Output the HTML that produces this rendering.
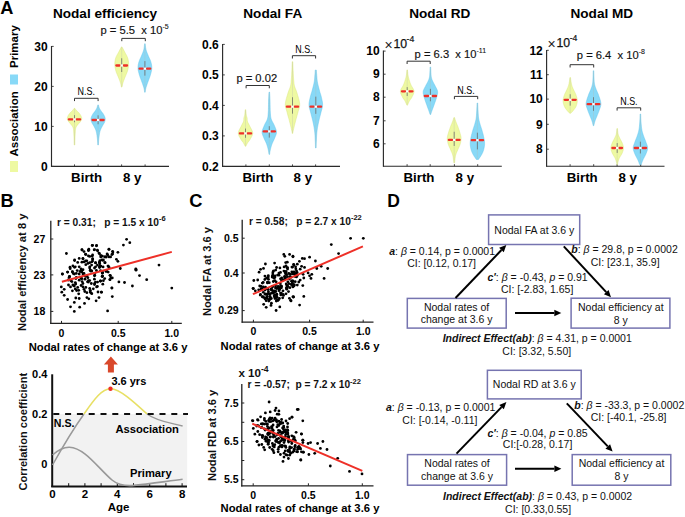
<!DOCTYPE html>
<html><head><meta charset="utf-8"><style>
html,body{margin:0;padding:0;background:#fff;overflow:hidden}
svg{display:block}
text{font-family:"Liberation Sans", sans-serif}
</style></head><body>
<svg width="685" height="517" viewBox="0 0 685 517">
<rect width="685" height="517" fill="#fff"/>
<text x="0.30" y="14.00" font-size="18.2" font-weight="bold" font-style="normal" text-anchor="start" fill="#000" >A</text>
<g transform="translate(18.3,68) rotate(-90)"><text x="0" y="0" font-size="11.5" font-weight="bold">Primary</text></g>
<rect x="10" y="74.5" width="8" height="10" fill="#88d9f7"/>
<g transform="translate(18.3,156.5) rotate(-90)"><text x="0" y="0" font-size="11.5" font-weight="bold">Association</text></g>
<rect x="10" y="161" width="8" height="11" fill="#eef9a2"/>
<line x1="51.50" y1="46.00" x2="51.50" y2="166.90" stroke="#2a2a2a" stroke-width="1.15" />
<line x1="51.20" y1="166.40" x2="169.00" y2="166.40" stroke="#2a2a2a" stroke-width="1.15" />
<line x1="51.70" y1="46.40" x2="53.70" y2="46.40" stroke="#333" stroke-width="0.9" />
<text x="47.70" y="50.60" font-size="12" font-weight="bold" font-style="normal" text-anchor="end" fill="#000" >30</text>
<line x1="51.70" y1="86.40" x2="53.70" y2="86.40" stroke="#333" stroke-width="0.9" />
<text x="47.70" y="90.60" font-size="12" font-weight="bold" font-style="normal" text-anchor="end" fill="#000" >20</text>
<line x1="51.70" y1="126.40" x2="53.70" y2="126.40" stroke="#333" stroke-width="0.9" />
<text x="47.70" y="130.60" font-size="12" font-weight="bold" font-style="normal" text-anchor="end" fill="#000" >10</text>
<line x1="51.70" y1="166.40" x2="53.70" y2="166.40" stroke="#333" stroke-width="0.9" />
<text x="47.70" y="170.60" font-size="12" font-weight="bold" font-style="normal" text-anchor="end" fill="#000" >0</text>
<line x1="74.50" y1="166.40" x2="74.50" y2="164.40" stroke="#333" stroke-width="0.9" />
<line x1="98.10" y1="166.40" x2="98.10" y2="164.40" stroke="#333" stroke-width="0.9" />
<line x1="121.60" y1="166.40" x2="121.60" y2="164.40" stroke="#333" stroke-width="0.9" />
<line x1="145.10" y1="166.40" x2="145.10" y2="164.40" stroke="#333" stroke-width="0.9" />
<text x="86.60" y="182.00" font-size="13.3" font-weight="bold" font-style="normal" text-anchor="middle" fill="#000" >Birth</text>
<text x="132.15" y="182.00" font-size="13.3" font-weight="bold" font-style="normal" text-anchor="middle" fill="#000" >8 y</text>
<text x="52.90" y="17.50" font-size="13.6" font-weight="bold" font-style="normal" text-anchor="start" fill="#000" >Nodal efficiency</text>
<path d="M74.80,108.30 L74.93,108.47 L75.09,108.69 L75.28,108.95 L75.49,109.24 L75.73,109.56 L75.98,109.88 L76.24,110.20 L76.50,110.50 L76.78,110.79 L77.08,111.09 L77.40,111.39 L77.73,111.70 L78.06,112.01 L78.39,112.33 L78.71,112.66 L79.00,113.00 L79.28,113.35 L79.57,113.72 L79.84,114.10 L80.11,114.48 L80.37,114.87 L80.60,115.25 L80.82,115.63 L81.00,116.00 L81.16,116.36 L81.31,116.72 L81.44,117.07 L81.55,117.42 L81.63,117.77 L81.69,118.11 L81.71,118.46 L81.70,118.80 L81.65,119.14 L81.56,119.47 L81.45,119.81 L81.30,120.14 L81.13,120.47 L80.94,120.81 L80.73,121.15 L80.50,121.50 L80.25,121.86 L79.96,122.22 L79.64,122.58 L79.31,122.95 L78.97,123.33 L78.63,123.71 L78.31,124.10 L78.00,124.50 L77.70,124.89 L77.39,125.26 L77.09,125.62 L76.79,126.00 L76.50,126.41 L76.24,126.87 L76.00,127.39 L75.80,128.00 L75.64,128.69 L75.51,129.43 L75.41,130.24 L75.33,131.09 L75.27,132.00 L75.21,132.96 L75.16,133.96 L75.10,135.00 L75.04,136.17 L74.99,137.52 L74.95,138.97 L74.91,140.44 L74.87,141.85 L74.84,143.13 L74.82,144.21 L74.80,145.00 L74.20,145.00 L74.18,144.21 L74.16,143.13 L74.13,141.85 L74.09,140.44 L74.05,138.97 L74.01,137.52 L73.96,136.17 L73.90,135.00 L73.84,133.96 L73.79,132.96 L73.73,132.00 L73.67,131.09 L73.59,130.24 L73.49,129.43 L73.36,128.69 L73.20,128.00 L73.00,127.39 L72.76,126.87 L72.50,126.41 L72.21,126.00 L71.91,125.62 L71.61,125.26 L71.30,124.89 L71.00,124.50 L70.69,124.10 L70.37,123.71 L70.03,123.33 L69.69,122.95 L69.36,122.58 L69.04,122.22 L68.75,121.86 L68.50,121.50 L68.27,121.15 L68.06,120.81 L67.87,120.47 L67.70,120.14 L67.55,119.81 L67.44,119.47 L67.35,119.14 L67.30,118.80 L67.29,118.46 L67.31,118.11 L67.37,117.77 L67.45,117.42 L67.56,117.07 L67.69,116.72 L67.84,116.36 L68.00,116.00 L68.18,115.63 L68.40,115.25 L68.63,114.87 L68.89,114.48 L69.16,114.10 L69.43,113.72 L69.72,113.35 L70.00,113.00 L70.29,112.66 L70.61,112.33 L70.94,112.01 L71.27,111.70 L71.60,111.39 L71.92,111.09 L72.22,110.79 L72.50,110.50 L72.76,110.20 L73.02,109.88 L73.27,109.56 L73.51,109.24 L73.72,108.95 L73.91,108.69 L74.07,108.47 L74.20,108.30Z" fill="#eef9a2" stroke="#d9e47a" stroke-width="0.45"/>
<line x1="74.50" y1="108.80" x2="74.50" y2="144.50" stroke="#b8bcb0" stroke-width="0.3" />
<line x1="74.50" y1="115.16" x2="74.50" y2="122.22" stroke="#606060" stroke-width="0.7" />
<line x1="68.88" y1="119.40" x2="72.30" y2="119.40" stroke="#ee3028" stroke-width="2.3" stroke-linecap="round"/>
<line x1="76.70" y1="119.40" x2="80.12" y2="119.40" stroke="#ee3028" stroke-width="2.3" stroke-linecap="round"/>
<rect x="73.40" y="118.30" width="2.2" height="2.2" fill="#fff"/>
<path d="M98.40,104.90 L98.46,105.14 L98.54,105.46 L98.63,105.84 L98.74,106.26 L98.86,106.71 L98.99,107.16 L99.14,107.60 L99.30,108.00 L99.48,108.38 L99.68,108.76 L99.89,109.13 L100.12,109.51 L100.36,109.88 L100.60,110.25 L100.85,110.63 L101.10,111.00 L101.36,111.38 L101.64,111.75 L101.93,112.12 L102.22,112.50 L102.51,112.88 L102.79,113.25 L103.06,113.62 L103.30,114.00 L103.53,114.38 L103.75,114.76 L103.96,115.15 L104.16,115.54 L104.35,115.92 L104.52,116.29 L104.67,116.65 L104.80,117.00 L104.91,117.32 L105.01,117.63 L105.08,117.91 L105.14,118.19 L105.19,118.48 L105.21,118.76 L105.21,119.07 L105.20,119.40 L105.17,119.75 L105.11,120.12 L105.04,120.49 L104.95,120.88 L104.84,121.28 L104.71,121.68 L104.57,122.09 L104.40,122.50 L104.21,122.91 L103.99,123.31 L103.75,123.72 L103.49,124.13 L103.22,124.56 L102.95,125.01 L102.67,125.49 L102.40,126.00 L102.12,126.54 L101.82,127.10 L101.51,127.68 L101.20,128.28 L100.90,128.91 L100.60,129.57 L100.34,130.27 L100.10,131.00 L99.89,131.78 L99.71,132.61 L99.54,133.48 L99.39,134.38 L99.25,135.29 L99.12,136.20 L99.01,137.11 L98.90,138.00 L98.80,138.92 L98.71,139.91 L98.64,140.93 L98.57,141.94 L98.52,142.89 L98.47,143.74 L98.43,144.46 L98.40,145.00 L97.80,145.00 L97.77,144.46 L97.73,143.74 L97.68,142.89 L97.62,141.94 L97.56,140.93 L97.49,139.91 L97.40,138.92 L97.30,138.00 L97.19,137.11 L97.07,136.20 L96.95,135.29 L96.81,134.38 L96.66,133.48 L96.49,132.61 L96.31,131.78 L96.10,131.00 L95.86,130.27 L95.60,129.57 L95.30,128.91 L95.00,128.28 L94.69,127.68 L94.38,127.10 L94.08,126.54 L93.80,126.00 L93.53,125.49 L93.25,125.01 L92.98,124.56 L92.71,124.13 L92.45,123.72 L92.21,123.31 L91.99,122.91 L91.80,122.50 L91.63,122.09 L91.49,121.68 L91.36,121.28 L91.25,120.88 L91.16,120.49 L91.09,120.12 L91.03,119.75 L91.00,119.40 L90.99,119.07 L90.99,118.76 L91.01,118.48 L91.06,118.19 L91.12,117.91 L91.19,117.63 L91.29,117.32 L91.40,117.00 L91.53,116.65 L91.68,116.29 L91.85,115.92 L92.04,115.54 L92.24,115.15 L92.45,114.76 L92.67,114.38 L92.90,114.00 L93.14,113.62 L93.41,113.25 L93.69,112.88 L93.98,112.50 L94.27,112.12 L94.56,111.75 L94.84,111.38 L95.10,111.00 L95.35,110.63 L95.60,110.25 L95.84,109.88 L96.08,109.51 L96.31,109.13 L96.52,108.76 L96.72,108.38 L96.90,108.00 L97.06,107.60 L97.21,107.16 L97.34,106.71 L97.46,106.26 L97.57,105.84 L97.66,105.46 L97.74,105.14 L97.80,104.90Z" fill="#88d9f7" stroke="#5fc2ea" stroke-width="0.45"/>
<line x1="98.10" y1="105.40" x2="98.10" y2="144.50" stroke="#b8bcb0" stroke-width="0.3" />
<line x1="98.10" y1="115.28" x2="98.10" y2="124.26" stroke="#606060" stroke-width="0.7" />
<line x1="92.57" y1="120.00" x2="95.90" y2="120.00" stroke="#ee3028" stroke-width="2.3" stroke-linecap="round"/>
<line x1="100.30" y1="120.00" x2="103.63" y2="120.00" stroke="#ee3028" stroke-width="2.3" stroke-linecap="round"/>
<rect x="97.00" y="118.90" width="2.2" height="2.2" fill="#fff"/>
<path d="M122.00,46.90 L122.21,47.29 L122.48,47.80 L122.80,48.40 L123.16,49.07 L123.55,49.80 L123.94,50.54 L124.33,51.28 L124.70,52.00 L125.08,52.70 L125.48,53.43 L125.90,54.16 L126.31,54.91 L126.72,55.67 L127.09,56.44 L127.42,57.22 L127.70,58.00 L127.93,58.79 L128.12,59.59 L128.28,60.40 L128.41,61.22 L128.50,62.04 L128.56,62.86 L128.60,63.68 L128.60,64.50 L128.57,65.31 L128.51,66.11 L128.41,66.92 L128.28,67.72 L128.12,68.53 L127.94,69.34 L127.73,70.16 L127.50,71.00 L127.22,71.86 L126.90,72.76 L126.53,73.68 L126.14,74.59 L125.75,75.50 L125.37,76.38 L125.01,77.22 L124.70,78.00 L124.42,78.73 L124.16,79.41 L123.91,80.06 L123.68,80.68 L123.47,81.28 L123.26,81.86 L123.08,82.43 L122.90,83.00 L122.74,83.58 L122.59,84.18 L122.46,84.78 L122.34,85.36 L122.23,85.90 L122.14,86.38 L122.06,86.79 L122.00,87.10 L121.40,87.10 L121.34,86.79 L121.26,86.38 L121.17,85.90 L121.06,85.36 L120.94,84.78 L120.81,84.18 L120.66,83.58 L120.50,83.00 L120.32,82.43 L120.14,81.86 L119.93,81.28 L119.72,80.68 L119.49,80.06 L119.24,79.41 L118.98,78.73 L118.70,78.00 L118.39,77.22 L118.03,76.38 L117.65,75.50 L117.26,74.59 L116.87,73.68 L116.50,72.76 L116.18,71.86 L115.90,71.00 L115.67,70.16 L115.46,69.34 L115.28,68.53 L115.12,67.72 L114.99,66.92 L114.89,66.11 L114.83,65.31 L114.80,64.50 L114.80,63.68 L114.84,62.86 L114.90,62.04 L114.99,61.22 L115.12,60.40 L115.28,59.59 L115.47,58.79 L115.70,58.00 L115.98,57.22 L116.31,56.44 L116.68,55.67 L117.09,54.91 L117.50,54.16 L117.92,53.43 L118.33,52.70 L118.70,52.00 L119.07,51.28 L119.46,50.54 L119.85,49.80 L120.24,49.07 L120.60,48.40 L120.92,47.80 L121.19,47.29 L121.40,46.90Z" fill="#eef9a2" stroke="#d9e47a" stroke-width="0.45"/>
<line x1="121.70" y1="47.40" x2="121.70" y2="86.60" stroke="#b8bcb0" stroke-width="0.3" />
<line x1="121.70" y1="58.26" x2="121.70" y2="72.03" stroke="#606060" stroke-width="0.7" />
<line x1="116.35" y1="65.50" x2="119.50" y2="65.50" stroke="#ee3028" stroke-width="2.3" stroke-linecap="round"/>
<line x1="123.90" y1="65.50" x2="127.05" y2="65.50" stroke="#ee3028" stroke-width="2.3" stroke-linecap="round"/>
<rect x="120.60" y="64.40" width="2.2" height="2.2" fill="#fff"/>
<path d="M145.20,43.80 L145.26,44.28 L145.33,44.92 L145.41,45.68 L145.51,46.52 L145.62,47.42 L145.76,48.32 L145.91,49.19 L146.10,50.00 L146.32,50.76 L146.57,51.51 L146.85,52.26 L147.15,53.01 L147.46,53.76 L147.78,54.50 L148.09,55.25 L148.40,56.00 L148.71,56.75 L149.05,57.49 L149.39,58.24 L149.74,58.98 L150.07,59.73 L150.38,60.48 L150.66,61.24 L150.90,62.00 L151.10,62.77 L151.29,63.54 L151.46,64.32 L151.59,65.11 L151.70,65.90 L151.77,66.69 L151.81,67.49 L151.80,68.30 L151.74,69.12 L151.64,69.94 L151.49,70.77 L151.31,71.61 L151.11,72.45 L150.88,73.29 L150.64,74.15 L150.40,75.00 L150.14,75.87 L149.84,76.75 L149.52,77.65 L149.19,78.54 L148.85,79.44 L148.52,80.31 L148.20,81.17 L147.90,82.00 L147.62,82.81 L147.33,83.61 L147.06,84.40 L146.79,85.17 L146.53,85.93 L146.30,86.65 L146.08,87.34 L145.90,88.00 L145.75,88.64 L145.62,89.28 L145.51,89.89 L145.43,90.47 L145.35,91.01 L145.30,91.49 L145.25,91.89 L145.20,92.20 L144.60,92.20 L144.55,91.89 L144.50,91.49 L144.45,91.01 L144.38,90.47 L144.29,89.89 L144.18,89.28 L144.05,88.64 L143.90,88.00 L143.72,87.34 L143.50,86.65 L143.27,85.93 L143.01,85.17 L142.74,84.40 L142.47,83.61 L142.18,82.81 L141.90,82.00 L141.60,81.17 L141.28,80.31 L140.95,79.44 L140.61,78.54 L140.28,77.65 L139.96,76.75 L139.66,75.87 L139.40,75.00 L139.16,74.15 L138.92,73.29 L138.69,72.45 L138.49,71.61 L138.31,70.77 L138.16,69.94 L138.06,69.12 L138.00,68.30 L137.99,67.49 L138.03,66.69 L138.10,65.90 L138.21,65.11 L138.34,64.32 L138.51,63.54 L138.70,62.77 L138.90,62.00 L139.14,61.24 L139.42,60.48 L139.73,59.73 L140.06,58.98 L140.41,58.24 L140.75,57.49 L141.09,56.75 L141.40,56.00 L141.71,55.25 L142.02,54.50 L142.34,53.76 L142.65,53.01 L142.95,52.26 L143.23,51.51 L143.48,50.76 L143.70,50.00 L143.89,49.19 L144.04,48.32 L144.18,47.42 L144.29,46.52 L144.39,45.68 L144.47,44.92 L144.54,44.28 L144.60,43.80Z" fill="#88d9f7" stroke="#5fc2ea" stroke-width="0.45"/>
<line x1="144.90" y1="44.30" x2="144.90" y2="91.70" stroke="#b8bcb0" stroke-width="0.3" />
<line x1="144.90" y1="61.08" x2="144.90" y2="75.67" stroke="#606060" stroke-width="0.7" />
<line x1="139.55" y1="68.70" x2="142.70" y2="68.70" stroke="#ee3028" stroke-width="2.3" stroke-linecap="round"/>
<line x1="147.10" y1="68.70" x2="150.25" y2="68.70" stroke="#ee3028" stroke-width="2.3" stroke-linecap="round"/>
<rect x="143.80" y="67.60" width="2.2" height="2.2" fill="#fff"/>
<path d="M74.50,101.10 L74.50,98.30 L98.10,98.30 L98.10,101.10" fill="none" stroke="#333" stroke-width="1"/>
<text x="86.30" y="95.00" font-size="10.4" font-weight="normal" font-style="normal" text-anchor="middle" fill="#000" fill="#222" textLength="17.4" lengthAdjust="spacingAndGlyphs">N.S.</text>
<path d="M121.80,41.20 L121.80,38.40 L145.30,38.40 L145.30,41.20" fill="none" stroke="#333" stroke-width="1"/>
<text x="100.5" y="34.2" font-size="11.2" fill="#111" stroke="#111" stroke-width="0.15" style="white-space:pre">p = 5.5  x 10<tspan font-size="7" dy="-5" stroke-width="0.1">-5</tspan></text>
<line x1="222.60" y1="44.00" x2="222.60" y2="166.90" stroke="#2a2a2a" stroke-width="1.15" />
<line x1="222.30" y1="166.40" x2="340.00" y2="166.40" stroke="#2a2a2a" stroke-width="1.15" />
<line x1="222.80" y1="44.40" x2="224.80" y2="44.40" stroke="#333" stroke-width="0.9" />
<text x="218.80" y="48.60" font-size="12" font-weight="bold" font-style="normal" text-anchor="end" fill="#000" >0.6</text>
<line x1="222.80" y1="74.90" x2="224.80" y2="74.90" stroke="#333" stroke-width="0.9" />
<text x="218.80" y="79.10" font-size="12" font-weight="bold" font-style="normal" text-anchor="end" fill="#000" >0.5</text>
<line x1="222.80" y1="105.40" x2="224.80" y2="105.40" stroke="#333" stroke-width="0.9" />
<text x="218.80" y="109.60" font-size="12" font-weight="bold" font-style="normal" text-anchor="end" fill="#000" >0.4</text>
<line x1="222.80" y1="135.90" x2="224.80" y2="135.90" stroke="#333" stroke-width="0.9" />
<text x="218.80" y="140.10" font-size="12" font-weight="bold" font-style="normal" text-anchor="end" fill="#000" >0.3</text>
<line x1="222.80" y1="166.40" x2="224.80" y2="166.40" stroke="#333" stroke-width="0.9" />
<text x="218.80" y="170.60" font-size="12" font-weight="bold" font-style="normal" text-anchor="end" fill="#000" >0.2</text>
<line x1="245.90" y1="166.40" x2="245.90" y2="164.40" stroke="#333" stroke-width="0.9" />
<line x1="269.30" y1="166.40" x2="269.30" y2="164.40" stroke="#333" stroke-width="0.9" />
<line x1="292.50" y1="166.40" x2="292.50" y2="164.40" stroke="#333" stroke-width="0.9" />
<line x1="315.60" y1="166.40" x2="315.60" y2="164.40" stroke="#333" stroke-width="0.9" />
<text x="257.90" y="182.00" font-size="13.3" font-weight="bold" font-style="normal" text-anchor="middle" fill="#000" >Birth</text>
<text x="302.85" y="182.00" font-size="13.3" font-weight="bold" font-style="normal" text-anchor="middle" fill="#000" >8 y</text>
<text x="243.30" y="17.50" font-size="13.6" font-weight="bold" font-style="normal" text-anchor="start" fill="#000" >Nodal FA</text>
<path d="M245.80,109.70 L245.84,110.12 L245.88,110.71 L245.94,111.40 L246.00,112.16 L246.07,112.95 L246.14,113.71 L246.22,114.41 L246.30,115.00 L246.39,115.48 L246.49,115.90 L246.60,116.27 L246.71,116.61 L246.82,116.94 L246.92,117.27 L247.02,117.62 L247.10,118.00 L247.16,118.41 L247.19,118.82 L247.20,119.23 L247.21,119.66 L247.24,120.09 L247.28,120.54 L247.37,121.01 L247.50,121.50 L247.68,122.00 L247.90,122.50 L248.16,123.00 L248.44,123.53 L248.74,124.09 L249.05,124.68 L249.37,125.31 L249.70,126.00 L250.07,126.76 L250.52,127.60 L251.00,128.49 L251.49,129.41 L251.94,130.34 L252.31,131.26 L252.58,132.16 L252.70,133.00 L252.66,133.81 L252.49,134.62 L252.21,135.41 L251.86,136.19 L251.47,136.94 L251.05,137.66 L250.66,138.35 L250.30,139.00 L249.96,139.60 L249.60,140.16 L249.23,140.68 L248.86,141.17 L248.49,141.64 L248.13,142.10 L247.80,142.55 L247.50,143.00 L247.22,143.47 L246.96,143.95 L246.71,144.43 L246.47,144.90 L246.26,145.33 L246.08,145.72 L245.92,146.05 L245.80,146.30 L245.20,146.30 L245.08,146.05 L244.92,145.72 L244.74,145.33 L244.53,144.90 L244.29,144.43 L244.04,143.95 L243.78,143.47 L243.50,143.00 L243.20,142.55 L242.87,142.10 L242.51,141.64 L242.14,141.17 L241.77,140.68 L241.40,140.16 L241.04,139.60 L240.70,139.00 L240.34,138.35 L239.95,137.66 L239.53,136.94 L239.14,136.19 L238.79,135.41 L238.51,134.62 L238.34,133.81 L238.30,133.00 L238.42,132.16 L238.69,131.26 L239.06,130.34 L239.51,129.41 L240.00,128.49 L240.48,127.60 L240.93,126.76 L241.30,126.00 L241.63,125.31 L241.95,124.68 L242.26,124.09 L242.56,123.53 L242.84,123.00 L243.10,122.50 L243.32,122.00 L243.50,121.50 L243.63,121.01 L243.72,120.54 L243.76,120.09 L243.79,119.66 L243.80,119.23 L243.81,118.82 L243.84,118.41 L243.90,118.00 L243.98,117.62 L244.08,117.27 L244.18,116.94 L244.29,116.61 L244.40,116.27 L244.51,115.90 L244.61,115.48 L244.70,115.00 L244.78,114.41 L244.86,113.71 L244.93,112.95 L245.00,112.16 L245.06,111.40 L245.12,110.71 L245.16,110.12 L245.20,109.70Z" fill="#eef9a2" stroke="#d9e47a" stroke-width="0.45"/>
<line x1="245.50" y1="110.20" x2="245.50" y2="145.80" stroke="#b8bcb0" stroke-width="0.3" />
<line x1="245.50" y1="128.55" x2="245.50" y2="137.77" stroke="#606060" stroke-width="0.7" />
<line x1="239.88" y1="133.40" x2="243.30" y2="133.40" stroke="#ee3028" stroke-width="2.3" stroke-linecap="round"/>
<line x1="247.70" y1="133.40" x2="251.12" y2="133.40" stroke="#ee3028" stroke-width="2.3" stroke-linecap="round"/>
<rect x="244.40" y="132.30" width="2.2" height="2.2" fill="#fff"/>
<path d="M269.60,92.10 L269.63,92.68 L269.67,93.42 L269.73,94.30 L269.78,95.30 L269.84,96.39 L269.90,97.55 L269.95,98.76 L270.00,100.00 L270.04,101.34 L270.07,102.83 L270.09,104.42 L270.12,106.06 L270.15,107.69 L270.19,109.26 L270.23,110.71 L270.30,112.00 L270.37,113.12 L270.44,114.12 L270.51,115.04 L270.59,115.88 L270.69,116.67 L270.82,117.44 L270.99,118.21 L271.20,119.00 L271.47,119.79 L271.80,120.55 L272.16,121.28 L272.56,122.00 L272.96,122.72 L273.36,123.45 L273.75,124.21 L274.10,125.00 L274.45,125.83 L274.83,126.70 L275.22,127.60 L275.59,128.50 L275.93,129.40 L276.21,130.30 L276.40,131.17 L276.50,132.00 L276.48,132.80 L276.37,133.57 L276.17,134.32 L275.92,135.06 L275.63,135.79 L275.31,136.52 L275.00,137.26 L274.70,138.00 L274.40,138.75 L274.06,139.50 L273.71,140.25 L273.34,141.00 L272.98,141.75 L272.63,142.50 L272.30,143.25 L272.00,144.00 L271.73,144.76 L271.48,145.54 L271.25,146.32 L271.03,147.10 L270.82,147.87 L270.63,148.61 L270.46,149.33 L270.30,150.00 L270.16,150.66 L270.04,151.32 L269.93,151.96 L269.84,152.57 L269.77,153.14 L269.70,153.65 L269.65,154.07 L269.60,154.40 L269.00,154.40 L268.95,154.07 L268.90,153.65 L268.83,153.14 L268.76,152.57 L268.67,151.96 L268.56,151.32 L268.44,150.66 L268.30,150.00 L268.14,149.33 L267.97,148.61 L267.78,147.87 L267.57,147.10 L267.35,146.32 L267.12,145.54 L266.87,144.76 L266.60,144.00 L266.30,143.25 L265.97,142.50 L265.62,141.75 L265.26,141.00 L264.89,140.25 L264.54,139.50 L264.20,138.75 L263.90,138.00 L263.60,137.26 L263.29,136.52 L262.97,135.79 L262.68,135.06 L262.43,134.32 L262.23,133.57 L262.12,132.80 L262.10,132.00 L262.20,131.17 L262.39,130.30 L262.67,129.40 L263.01,128.50 L263.38,127.60 L263.77,126.70 L264.15,125.83 L264.50,125.00 L264.85,124.21 L265.24,123.45 L265.64,122.72 L266.04,122.00 L266.44,121.28 L266.80,120.55 L267.13,119.79 L267.40,119.00 L267.61,118.21 L267.78,117.44 L267.91,116.67 L268.01,115.88 L268.09,115.04 L268.16,114.12 L268.23,113.12 L268.30,112.00 L268.37,110.71 L268.41,109.26 L268.45,107.69 L268.48,106.06 L268.51,104.42 L268.53,102.83 L268.56,101.34 L268.60,100.00 L268.65,98.76 L268.70,97.55 L268.76,96.39 L268.82,95.30 L268.87,94.30 L268.93,93.42 L268.97,92.68 L269.00,92.10Z" fill="#88d9f7" stroke="#5fc2ea" stroke-width="0.45"/>
<line x1="269.30" y1="92.60" x2="269.30" y2="153.90" stroke="#b8bcb0" stroke-width="0.3" />
<line x1="269.30" y1="126.19" x2="269.30" y2="137.61" stroke="#606060" stroke-width="0.7" />
<line x1="263.68" y1="131.40" x2="267.10" y2="131.40" stroke="#ee3028" stroke-width="2.3" stroke-linecap="round"/>
<line x1="271.50" y1="131.40" x2="274.92" y2="131.40" stroke="#ee3028" stroke-width="2.3" stroke-linecap="round"/>
<rect x="268.20" y="130.30" width="2.2" height="2.2" fill="#fff"/>
<path d="M292.80,61.70 L292.83,62.51 L292.87,63.60 L292.92,64.91 L292.97,66.35 L293.03,67.85 L293.08,69.35 L293.14,70.75 L293.20,72.00 L293.26,73.12 L293.31,74.21 L293.37,75.26 L293.43,76.27 L293.49,77.25 L293.55,78.19 L293.62,79.11 L293.70,80.00 L293.77,80.84 L293.84,81.62 L293.90,82.35 L293.98,83.06 L294.06,83.76 L294.17,84.48 L294.32,85.22 L294.50,86.00 L294.73,86.80 L295.00,87.59 L295.30,88.38 L295.63,89.19 L295.97,90.04 L296.32,90.95 L296.67,91.93 L297.00,93.00 L297.36,94.20 L297.76,95.54 L298.19,96.96 L298.61,98.44 L299.00,99.92 L299.33,101.37 L299.57,102.74 L299.70,104.00 L299.70,105.13 L299.61,106.16 L299.43,107.13 L299.19,108.06 L298.90,108.99 L298.60,109.93 L298.29,110.92 L298.00,112.00 L297.70,113.17 L297.38,114.41 L297.03,115.69 L296.66,117.00 L296.30,118.31 L295.94,119.59 L295.61,120.83 L295.30,122.00 L295.02,123.13 L294.74,124.25 L294.47,125.35 L294.22,126.41 L293.98,127.42 L293.76,128.37 L293.57,129.23 L293.40,130.00 L293.26,130.67 L293.14,131.25 L293.05,131.76 L292.98,132.20 L292.92,132.58 L292.88,132.90 L292.84,133.17 L292.80,133.40 L292.20,133.40 L292.16,133.17 L292.12,132.90 L292.08,132.58 L292.02,132.20 L291.95,131.76 L291.86,131.25 L291.74,130.67 L291.60,130.00 L291.43,129.23 L291.24,128.37 L291.02,127.42 L290.78,126.41 L290.53,125.35 L290.26,124.25 L289.98,123.13 L289.70,122.00 L289.39,120.83 L289.06,119.59 L288.70,118.31 L288.34,117.00 L287.97,115.69 L287.62,114.41 L287.30,113.17 L287.00,112.00 L286.71,110.92 L286.40,109.93 L286.10,108.99 L285.81,108.06 L285.57,107.13 L285.39,106.16 L285.30,105.13 L285.30,104.00 L285.43,102.74 L285.67,101.37 L286.00,99.92 L286.39,98.44 L286.81,96.96 L287.24,95.54 L287.64,94.20 L288.00,93.00 L288.33,91.93 L288.68,90.95 L289.03,90.04 L289.37,89.19 L289.70,88.38 L290.00,87.59 L290.27,86.80 L290.50,86.00 L290.68,85.22 L290.83,84.48 L290.94,83.76 L291.02,83.06 L291.10,82.35 L291.16,81.62 L291.23,80.84 L291.30,80.00 L291.38,79.11 L291.45,78.19 L291.51,77.25 L291.57,76.27 L291.63,75.26 L291.69,74.21 L291.74,73.12 L291.80,72.00 L291.86,70.75 L291.92,69.35 L291.97,67.85 L292.03,66.35 L292.08,64.91 L292.13,63.60 L292.17,62.51 L292.20,61.70Z" fill="#eef9a2" stroke="#d9e47a" stroke-width="0.45"/>
<line x1="292.50" y1="62.20" x2="292.50" y2="132.90" stroke="#b8bcb0" stroke-width="0.3" />
<line x1="292.50" y1="97.25" x2="292.50" y2="113.67" stroke="#606060" stroke-width="0.7" />
<line x1="286.88" y1="106.70" x2="290.30" y2="106.70" stroke="#ee3028" stroke-width="2.3" stroke-linecap="round"/>
<line x1="294.70" y1="106.70" x2="298.12" y2="106.70" stroke="#ee3028" stroke-width="2.3" stroke-linecap="round"/>
<rect x="291.40" y="105.60" width="2.2" height="2.2" fill="#fff"/>
<path d="M316.30,70.00 L316.34,70.46 L316.39,71.08 L316.45,71.81 L316.51,72.62 L316.58,73.49 L316.66,74.36 L316.73,75.21 L316.80,76.00 L316.86,76.74 L316.91,77.45 L316.96,78.16 L317.01,78.88 L317.08,79.60 L317.16,80.36 L317.26,81.15 L317.40,82.00 L317.57,82.91 L317.78,83.88 L318.01,84.90 L318.26,85.94 L318.52,86.99 L318.79,88.02 L319.05,89.03 L319.30,90.00 L319.55,90.92 L319.81,91.80 L320.07,92.65 L320.34,93.50 L320.60,94.35 L320.85,95.20 L321.08,96.08 L321.30,97.00 L321.52,97.95 L321.75,98.93 L321.98,99.93 L322.19,100.94 L322.37,101.96 L322.51,102.98 L322.59,103.99 L322.60,105.00 L322.53,105.99 L322.38,106.98 L322.17,107.96 L321.92,108.94 L321.64,109.93 L321.35,110.93 L321.07,111.95 L320.80,113.00 L320.54,114.08 L320.26,115.18 L319.98,116.30 L319.69,117.44 L319.40,118.58 L319.12,119.73 L318.85,120.87 L318.60,122.00 L318.36,123.12 L318.13,124.25 L317.91,125.38 L317.70,126.50 L317.50,127.62 L317.32,128.75 L317.15,129.88 L317.00,131.00 L316.88,132.13 L316.77,133.27 L316.69,134.42 L316.62,135.56 L316.56,136.70 L316.51,137.82 L316.45,138.92 L316.40,140.00 L316.35,141.10 L316.30,142.26 L316.25,143.42 L316.21,144.56 L316.18,145.63 L316.15,146.59 L316.12,147.39 L316.10,148.00 L315.50,148.00 L315.48,147.39 L315.45,146.59 L315.42,145.63 L315.39,144.56 L315.35,143.42 L315.30,142.26 L315.25,141.10 L315.20,140.00 L315.15,138.92 L315.09,137.82 L315.04,136.70 L314.98,135.56 L314.91,134.42 L314.83,133.27 L314.72,132.13 L314.60,131.00 L314.45,129.88 L314.28,128.75 L314.10,127.62 L313.90,126.50 L313.69,125.38 L313.47,124.25 L313.24,123.12 L313.00,122.00 L312.75,120.87 L312.48,119.73 L312.20,118.58 L311.91,117.44 L311.62,116.30 L311.34,115.18 L311.06,114.08 L310.80,113.00 L310.53,111.95 L310.25,110.93 L309.96,109.93 L309.68,108.94 L309.43,107.96 L309.22,106.98 L309.07,105.99 L309.00,105.00 L309.01,103.99 L309.09,102.98 L309.23,101.96 L309.41,100.94 L309.62,99.93 L309.85,98.93 L310.08,97.95 L310.30,97.00 L310.52,96.08 L310.75,95.20 L311.00,94.35 L311.26,93.50 L311.53,92.65 L311.79,91.80 L312.05,90.92 L312.30,90.00 L312.55,89.03 L312.81,88.02 L313.08,86.99 L313.34,85.94 L313.59,84.90 L313.82,83.88 L314.03,82.91 L314.20,82.00 L314.34,81.15 L314.44,80.36 L314.52,79.60 L314.59,78.88 L314.64,78.16 L314.69,77.45 L314.74,76.74 L314.80,76.00 L314.87,75.21 L314.94,74.36 L315.02,73.49 L315.09,72.62 L315.15,71.81 L315.21,71.08 L315.26,70.46 L315.30,70.00Z" fill="#88d9f7" stroke="#5fc2ea" stroke-width="0.45"/>
<line x1="315.80" y1="70.50" x2="315.80" y2="147.50" stroke="#b8bcb0" stroke-width="0.3" />
<line x1="315.80" y1="96.68" x2="315.80" y2="113.83" stroke="#606060" stroke-width="0.7" />
<line x1="310.54" y1="106.70" x2="313.60" y2="106.70" stroke="#ee3028" stroke-width="2.3" stroke-linecap="round"/>
<line x1="318.00" y1="106.70" x2="321.06" y2="106.70" stroke="#ee3028" stroke-width="2.3" stroke-linecap="round"/>
<rect x="314.70" y="105.60" width="2.2" height="2.2" fill="#fff"/>
<path d="M246.10,88.30 L246.10,85.50 L269.30,85.50 L269.30,88.30" fill="none" stroke="#333" stroke-width="1"/>
<text x="236.4" y="82.2" font-size="11.2" fill="#111" stroke="#111" stroke-width="0.15">p = 0.02</text>
<path d="M292.40,58.50 L292.40,55.70 L315.60,55.70 L315.60,58.50" fill="none" stroke="#333" stroke-width="1"/>
<text x="303.90" y="52.50" font-size="10.4" font-weight="normal" font-style="normal" text-anchor="middle" fill="#000" fill="#222" textLength="17.4" lengthAdjust="spacingAndGlyphs">N.S.</text>
<line x1="383.40" y1="50.50" x2="383.40" y2="166.70" stroke="#2a2a2a" stroke-width="1.15" />
<line x1="383.10" y1="166.20" x2="501.80" y2="166.20" stroke="#2a2a2a" stroke-width="1.15" />
<line x1="383.60" y1="51.10" x2="385.60" y2="51.10" stroke="#333" stroke-width="0.9" />
<text x="379.60" y="55.30" font-size="12" font-weight="bold" font-style="normal" text-anchor="end" fill="#000" >10</text>
<line x1="383.60" y1="74.20" x2="385.60" y2="74.20" stroke="#333" stroke-width="0.9" />
<text x="379.60" y="78.40" font-size="12" font-weight="bold" font-style="normal" text-anchor="end" fill="#000" >9</text>
<line x1="383.60" y1="97.20" x2="385.60" y2="97.20" stroke="#333" stroke-width="0.9" />
<text x="379.60" y="101.40" font-size="12" font-weight="bold" font-style="normal" text-anchor="end" fill="#000" >8</text>
<line x1="383.60" y1="120.80" x2="385.60" y2="120.80" stroke="#333" stroke-width="0.9" />
<text x="379.60" y="125.00" font-size="12" font-weight="bold" font-style="normal" text-anchor="end" fill="#000" >7</text>
<line x1="383.60" y1="143.80" x2="385.60" y2="143.80" stroke="#333" stroke-width="0.9" />
<text x="379.60" y="148.00" font-size="12" font-weight="bold" font-style="normal" text-anchor="end" fill="#000" >6</text>
<line x1="407.10" y1="166.20" x2="407.10" y2="164.20" stroke="#333" stroke-width="0.9" />
<line x1="430.20" y1="166.20" x2="430.20" y2="164.20" stroke="#333" stroke-width="0.9" />
<line x1="454.40" y1="166.20" x2="454.40" y2="164.20" stroke="#333" stroke-width="0.9" />
<line x1="477.70" y1="166.20" x2="477.70" y2="164.20" stroke="#333" stroke-width="0.9" />
<text x="418.95" y="182.00" font-size="13.3" font-weight="bold" font-style="normal" text-anchor="middle" fill="#000" >Birth</text>
<text x="464.85" y="182.00" font-size="13.3" font-weight="bold" font-style="normal" text-anchor="middle" fill="#000" >8 y</text>
<text x="409.20" y="17.50" font-size="13.6" font-weight="bold" font-style="normal" text-anchor="start" fill="#000" >Nodal RD</text>
<text x="384.6" y="49.6" font-size="14" fill="#222">×</text><text x="393.4" y="48.4" font-size="12.3" fill="#111" stroke="#111" stroke-width="0.25">10</text><text x="406.6" y="41.8" font-size="8.6" fill="#111" stroke="#111" stroke-width="0.2">-4</text>
<path d="M407.50,69.90 L407.53,70.29 L407.57,70.82 L407.62,71.44 L407.68,72.14 L407.74,72.87 L407.81,73.61 L407.90,74.33 L408.00,75.00 L408.11,75.63 L408.24,76.26 L408.37,76.88 L408.52,77.51 L408.68,78.13 L408.84,78.75 L409.02,79.38 L409.20,80.00 L409.39,80.62 L409.58,81.22 L409.78,81.83 L409.99,82.43 L410.21,83.04 L410.45,83.67 L410.71,84.32 L411.00,85.00 L411.35,85.71 L411.78,86.45 L412.26,87.22 L412.74,87.99 L413.19,88.78 L413.57,89.56 L413.86,90.34 L414.00,91.10 L413.99,91.86 L413.87,92.63 L413.64,93.41 L413.35,94.18 L413.01,94.94 L412.66,95.66 L412.31,96.35 L412.00,97.00 L411.70,97.59 L411.38,98.13 L411.04,98.63 L410.69,99.11 L410.35,99.57 L410.01,100.03 L409.70,100.50 L409.40,101.00 L409.12,101.54 L408.83,102.13 L408.55,102.74 L408.29,103.35 L408.04,103.92 L407.82,104.44 L407.64,104.87 L407.50,105.20 L406.90,105.20 L406.76,104.87 L406.57,104.44 L406.36,103.92 L406.11,103.35 L405.85,102.74 L405.57,102.13 L405.28,101.54 L405.00,101.00 L404.70,100.50 L404.39,100.03 L404.05,99.57 L403.71,99.11 L403.36,98.63 L403.02,98.13 L402.70,97.59 L402.40,97.00 L402.09,96.35 L401.74,95.66 L401.39,94.94 L401.05,94.18 L400.76,93.41 L400.53,92.63 L400.41,91.86 L400.40,91.10 L400.54,90.34 L400.83,89.56 L401.21,88.78 L401.66,87.99 L402.14,87.22 L402.62,86.45 L403.05,85.71 L403.40,85.00 L403.69,84.32 L403.95,83.67 L404.19,83.04 L404.41,82.43 L404.62,81.83 L404.82,81.22 L405.01,80.62 L405.20,80.00 L405.38,79.38 L405.56,78.75 L405.72,78.13 L405.88,77.51 L406.03,76.88 L406.16,76.26 L406.29,75.63 L406.40,75.00 L406.50,74.33 L406.59,73.61 L406.66,72.87 L406.72,72.14 L406.78,71.44 L406.83,70.82 L406.87,70.29 L406.90,69.90Z" fill="#eef9a2" stroke="#d9e47a" stroke-width="0.45"/>
<line x1="407.20" y1="70.40" x2="407.20" y2="104.70" stroke="#b8bcb0" stroke-width="0.3" />
<line x1="407.20" y1="87.11" x2="407.20" y2="95.98" stroke="#606060" stroke-width="0.7" />
<line x1="401.94" y1="91.30" x2="405.00" y2="91.30" stroke="#ee3028" stroke-width="2.3" stroke-linecap="round"/>
<line x1="409.40" y1="91.30" x2="412.46" y2="91.30" stroke="#ee3028" stroke-width="2.3" stroke-linecap="round"/>
<rect x="406.10" y="90.20" width="2.2" height="2.2" fill="#fff"/>
<path d="M430.70,67.00 L430.71,67.39 L430.73,67.90 L430.75,68.51 L430.77,69.19 L430.80,69.91 L430.83,70.63 L430.86,71.34 L430.90,72.00 L430.93,72.63 L430.96,73.27 L431.00,73.92 L431.03,74.56 L431.08,75.20 L431.13,75.82 L431.21,76.42 L431.30,77.00 L431.41,77.54 L431.53,78.05 L431.66,78.53 L431.81,79.00 L431.98,79.47 L432.16,79.95 L432.37,80.46 L432.60,81.00 L432.86,81.57 L433.16,82.17 L433.49,82.78 L433.83,83.41 L434.18,84.04 L434.53,84.69 L434.88,85.34 L435.20,86.00 L435.53,86.66 L435.89,87.34 L436.26,88.03 L436.62,88.72 L436.95,89.42 L437.24,90.11 L437.46,90.81 L437.60,91.50 L437.65,92.18 L437.64,92.84 L437.57,93.50 L437.44,94.16 L437.29,94.83 L437.10,95.52 L436.90,96.24 L436.70,97.00 L436.48,97.81 L436.22,98.67 L435.94,99.56 L435.63,100.47 L435.32,101.38 L435.00,102.29 L434.69,103.16 L434.40,104.00 L434.12,104.81 L433.83,105.61 L433.54,106.39 L433.25,107.16 L432.97,107.90 L432.70,108.63 L432.44,109.33 L432.20,110.00 L431.97,110.67 L431.74,111.34 L431.52,112.00 L431.31,112.62 L431.12,113.21 L430.95,113.73 L430.81,114.16 L430.70,114.50 L430.10,114.50 L429.99,114.16 L429.85,113.73 L429.68,113.21 L429.49,112.62 L429.28,112.00 L429.06,111.34 L428.83,110.67 L428.60,110.00 L428.36,109.33 L428.10,108.63 L427.83,107.90 L427.55,107.16 L427.26,106.39 L426.97,105.61 L426.68,104.81 L426.40,104.00 L426.11,103.16 L425.80,102.29 L425.48,101.38 L425.17,100.47 L424.86,99.56 L424.58,98.67 L424.32,97.81 L424.10,97.00 L423.90,96.24 L423.70,95.52 L423.51,94.83 L423.36,94.16 L423.23,93.50 L423.16,92.84 L423.15,92.18 L423.20,91.50 L423.34,90.81 L423.56,90.11 L423.85,89.42 L424.18,88.72 L424.54,88.03 L424.91,87.34 L425.27,86.66 L425.60,86.00 L425.92,85.34 L426.27,84.69 L426.62,84.04 L426.97,83.41 L427.31,82.78 L427.64,82.17 L427.94,81.57 L428.20,81.00 L428.43,80.46 L428.64,79.95 L428.82,79.47 L428.99,79.00 L429.14,78.53 L429.27,78.05 L429.39,77.54 L429.50,77.00 L429.59,76.42 L429.67,75.82 L429.72,75.20 L429.77,74.56 L429.80,73.92 L429.84,73.27 L429.87,72.63 L429.90,72.00 L429.94,71.34 L429.97,70.63 L430.00,69.91 L430.02,69.19 L430.05,68.51 L430.07,67.90 L430.09,67.39 L430.10,67.00Z" fill="#88d9f7" stroke="#5fc2ea" stroke-width="0.45"/>
<line x1="430.40" y1="67.50" x2="430.40" y2="114.00" stroke="#b8bcb0" stroke-width="0.3" />
<line x1="430.40" y1="88.83" x2="430.40" y2="101.28" stroke="#606060" stroke-width="0.7" />
<line x1="424.78" y1="96.00" x2="428.20" y2="96.00" stroke="#ee3028" stroke-width="2.3" stroke-linecap="round"/>
<line x1="432.60" y1="96.00" x2="436.02" y2="96.00" stroke="#ee3028" stroke-width="2.3" stroke-linecap="round"/>
<rect x="429.30" y="94.90" width="2.2" height="2.2" fill="#fff"/>
<path d="M454.50,117.50 L454.61,117.84 L454.76,118.30 L454.93,118.84 L455.12,119.44 L455.33,120.08 L455.55,120.73 L455.78,121.38 L456.00,122.00 L456.23,122.59 L456.46,123.19 L456.71,123.79 L456.97,124.41 L457.23,125.03 L457.49,125.67 L457.75,126.32 L458.00,127.00 L458.26,127.71 L458.52,128.45 L458.79,129.22 L459.06,130.00 L459.32,130.78 L459.56,131.55 L459.79,132.29 L460.00,133.00 L460.19,133.67 L460.39,134.30 L460.57,134.90 L460.73,135.50 L460.87,136.10 L460.99,136.70 L461.06,137.33 L461.10,138.00 L461.09,138.70 L461.05,139.43 L460.98,140.18 L460.88,140.94 L460.74,141.71 L460.58,142.48 L460.40,143.24 L460.20,144.00 L459.96,144.76 L459.68,145.52 L459.36,146.29 L459.02,147.06 L458.67,147.82 L458.33,148.57 L458.00,149.30 L457.70,150.00 L457.42,150.67 L457.14,151.32 L456.86,151.95 L456.59,152.56 L456.34,153.17 L456.10,153.77 L455.89,154.38 L455.70,155.00 L455.54,155.64 L455.41,156.30 L455.29,156.96 L455.20,157.62 L455.12,158.27 L455.04,158.89 L454.97,159.47 L454.90,160.00 L454.83,160.49 L454.76,160.96 L454.70,161.40 L454.65,161.81 L454.60,162.18 L454.56,162.51 L454.53,162.78 L454.50,163.00 L453.90,163.00 L453.87,162.78 L453.84,162.51 L453.80,162.18 L453.75,161.81 L453.70,161.40 L453.64,160.96 L453.57,160.49 L453.50,160.00 L453.43,159.47 L453.36,158.89 L453.28,158.27 L453.20,157.62 L453.11,156.96 L452.99,156.30 L452.86,155.64 L452.70,155.00 L452.51,154.38 L452.30,153.77 L452.06,153.17 L451.81,152.56 L451.54,151.95 L451.26,151.32 L450.98,150.67 L450.70,150.00 L450.40,149.30 L450.07,148.57 L449.73,147.82 L449.38,147.06 L449.04,146.29 L448.72,145.52 L448.44,144.76 L448.20,144.00 L448.00,143.24 L447.82,142.48 L447.66,141.71 L447.52,140.94 L447.42,140.18 L447.35,139.43 L447.31,138.70 L447.30,138.00 L447.34,137.33 L447.41,136.70 L447.53,136.10 L447.67,135.50 L447.83,134.90 L448.01,134.30 L448.21,133.67 L448.40,133.00 L448.61,132.29 L448.84,131.55 L449.08,130.78 L449.34,130.00 L449.61,129.22 L449.88,128.45 L450.14,127.71 L450.40,127.00 L450.65,126.32 L450.91,125.67 L451.17,125.03 L451.43,124.41 L451.69,123.79 L451.94,123.19 L452.17,122.59 L452.40,122.00 L452.62,121.38 L452.85,120.73 L453.07,120.08 L453.27,119.44 L453.47,118.84 L453.64,118.30 L453.79,117.84 L453.90,117.50Z" fill="#eef9a2" stroke="#d9e47a" stroke-width="0.45"/>
<line x1="454.20" y1="118.00" x2="454.20" y2="162.50" stroke="#b8bcb0" stroke-width="0.3" />
<line x1="454.20" y1="131.75" x2="454.20" y2="145.96" stroke="#606060" stroke-width="0.7" />
<line x1="448.85" y1="139.90" x2="452.00" y2="139.90" stroke="#ee3028" stroke-width="2.3" stroke-linecap="round"/>
<line x1="456.40" y1="139.90" x2="459.55" y2="139.90" stroke="#ee3028" stroke-width="2.3" stroke-linecap="round"/>
<rect x="453.10" y="138.80" width="2.2" height="2.2" fill="#fff"/>
<path d="M477.70,103.00 L477.72,103.53 L477.75,104.23 L477.78,105.07 L477.81,106.00 L477.85,106.99 L477.90,108.02 L477.95,109.03 L478.00,110.00 L478.06,110.97 L478.11,111.98 L478.17,113.01 L478.23,114.06 L478.30,115.10 L478.39,116.12 L478.48,117.09 L478.60,118.00 L478.73,118.85 L478.88,119.64 L479.04,120.40 L479.22,121.12 L479.40,121.84 L479.60,122.55 L479.80,123.26 L480.00,124.00 L480.21,124.74 L480.44,125.48 L480.68,126.21 L480.92,126.94 L481.17,127.68 L481.42,128.43 L481.66,129.20 L481.90,130.00 L482.14,130.83 L482.38,131.69 L482.62,132.57 L482.86,133.47 L483.10,134.37 L483.32,135.26 L483.52,136.14 L483.70,137.00 L483.87,137.84 L484.03,138.66 L484.19,139.47 L484.32,140.28 L484.44,141.08 L484.53,141.89 L484.58,142.69 L484.60,143.50 L484.57,144.32 L484.51,145.16 L484.42,146.00 L484.29,146.84 L484.15,147.67 L483.98,148.48 L483.80,149.26 L483.60,150.00 L483.39,150.70 L483.15,151.37 L482.90,152.01 L482.62,152.62 L482.34,153.23 L482.03,153.82 L481.72,154.41 L481.40,155.00 L481.04,155.62 L480.64,156.27 L480.20,156.92 L479.76,157.56 L479.34,158.16 L478.96,158.70 L478.64,159.16 L478.40,159.50 L476.40,159.50 L476.16,159.16 L475.84,158.70 L475.46,158.16 L475.04,157.56 L474.60,156.92 L474.16,156.27 L473.76,155.62 L473.40,155.00 L473.08,154.41 L472.77,153.82 L472.46,153.23 L472.17,152.62 L471.90,152.01 L471.65,151.37 L471.41,150.70 L471.20,150.00 L471.00,149.26 L470.82,148.48 L470.65,147.67 L470.51,146.84 L470.38,146.00 L470.29,145.16 L470.23,144.32 L470.20,143.50 L470.22,142.69 L470.27,141.89 L470.36,141.08 L470.47,140.28 L470.61,139.47 L470.77,138.66 L470.93,137.84 L471.10,137.00 L471.28,136.14 L471.48,135.26 L471.70,134.37 L471.94,133.47 L472.18,132.57 L472.42,131.69 L472.66,130.83 L472.90,130.00 L473.14,129.20 L473.38,128.43 L473.63,127.68 L473.88,126.94 L474.12,126.21 L474.36,125.48 L474.59,124.74 L474.80,124.00 L475.00,123.26 L475.20,122.55 L475.40,121.84 L475.58,121.12 L475.76,120.40 L475.92,119.64 L476.07,118.85 L476.20,118.00 L476.32,117.09 L476.41,116.12 L476.50,115.10 L476.57,114.06 L476.63,113.01 L476.69,111.98 L476.74,110.97 L476.80,110.00 L476.85,109.03 L476.90,108.02 L476.95,106.99 L476.99,106.00 L477.02,105.07 L477.05,104.23 L477.08,103.53 L477.10,103.00Z" fill="#88d9f7" stroke="#5fc2ea" stroke-width="0.45"/>
<line x1="477.40" y1="103.50" x2="477.40" y2="159.00" stroke="#b8bcb0" stroke-width="0.3" />
<line x1="477.40" y1="132.69" x2="477.40" y2="149.45" stroke="#606060" stroke-width="0.7" />
<line x1="471.78" y1="140.20" x2="475.20" y2="140.20" stroke="#ee3028" stroke-width="2.3" stroke-linecap="round"/>
<line x1="479.60" y1="140.20" x2="483.02" y2="140.20" stroke="#ee3028" stroke-width="2.3" stroke-linecap="round"/>
<rect x="476.30" y="139.10" width="2.2" height="2.2" fill="#fff"/>
<path d="M407.10,64.00 L407.10,61.20 L430.20,61.20 L430.20,64.00" fill="none" stroke="#333" stroke-width="1"/>
<text x="414.6" y="57.6" font-size="11.2" fill="#111" stroke="#111" stroke-width="0.15" style="white-space:pre">p = 6.3  x 10<tspan font-size="7" dy="-5" stroke-width="0.1">-11</tspan></text>
<path d="M454.40,99.20 L454.40,96.40 L477.70,96.40 L477.70,99.20" fill="none" stroke="#333" stroke-width="1"/>
<text x="466.00" y="93.70" font-size="10.4" font-weight="normal" font-style="normal" text-anchor="middle" fill="#000" fill="#222" textLength="17.4" lengthAdjust="spacingAndGlyphs">N.S.</text>
<line x1="546.60" y1="50.00" x2="546.60" y2="166.70" stroke="#2a2a2a" stroke-width="1.15" />
<line x1="546.30" y1="166.20" x2="664.50" y2="166.20" stroke="#2a2a2a" stroke-width="1.15" />
<line x1="546.80" y1="50.30" x2="548.80" y2="50.30" stroke="#333" stroke-width="0.9" />
<text x="542.80" y="54.50" font-size="12" font-weight="bold" font-style="normal" text-anchor="end" fill="#000" >12</text>
<line x1="546.80" y1="74.70" x2="548.80" y2="74.70" stroke="#333" stroke-width="0.9" />
<text x="542.80" y="78.90" font-size="12" font-weight="bold" font-style="normal" text-anchor="end" fill="#000" >11</text>
<line x1="546.80" y1="99.10" x2="548.80" y2="99.10" stroke="#333" stroke-width="0.9" />
<text x="542.80" y="103.30" font-size="12" font-weight="bold" font-style="normal" text-anchor="end" fill="#000" >10</text>
<line x1="546.80" y1="124.30" x2="548.80" y2="124.30" stroke="#333" stroke-width="0.9" />
<text x="542.80" y="128.50" font-size="12" font-weight="bold" font-style="normal" text-anchor="end" fill="#000" >9</text>
<line x1="546.80" y1="149.20" x2="548.80" y2="149.20" stroke="#333" stroke-width="0.9" />
<text x="542.80" y="153.40" font-size="12" font-weight="bold" font-style="normal" text-anchor="end" fill="#000" >8</text>
<line x1="570.10" y1="166.20" x2="570.10" y2="164.20" stroke="#333" stroke-width="0.9" />
<line x1="593.70" y1="166.20" x2="593.70" y2="164.20" stroke="#333" stroke-width="0.9" />
<line x1="617.10" y1="166.20" x2="617.10" y2="164.20" stroke="#333" stroke-width="0.9" />
<line x1="640.70" y1="166.20" x2="640.70" y2="164.20" stroke="#333" stroke-width="0.9" />
<text x="582.20" y="182.00" font-size="13.3" font-weight="bold" font-style="normal" text-anchor="middle" fill="#000" >Birth</text>
<text x="627.70" y="182.00" font-size="13.3" font-weight="bold" font-style="normal" text-anchor="middle" fill="#000" >8 y</text>
<text x="570.50" y="17.50" font-size="13.6" font-weight="bold" font-style="normal" text-anchor="start" fill="#000" >Nodal MD</text>
<text x="547.4" y="48.7" font-size="14" fill="#222">×</text><text x="556.5" y="47.3" font-size="12.3" fill="#111" stroke="#111" stroke-width="0.25">10</text><text x="569.7" y="40.9" font-size="8.6" fill="#111" stroke="#111" stroke-width="0.2">-4</text>
<path d="M570.50,77.50 L570.54,77.85 L570.60,78.32 L570.67,78.88 L570.74,79.50 L570.83,80.15 L570.91,80.80 L571.01,81.43 L571.10,82.00 L571.19,82.52 L571.29,83.04 L571.38,83.54 L571.48,84.03 L571.59,84.52 L571.71,85.01 L571.85,85.50 L572.00,86.00 L572.17,86.49 L572.35,86.98 L572.55,87.46 L572.76,87.94 L572.98,88.43 L573.21,88.93 L573.45,89.45 L573.70,90.00 L573.97,90.57 L574.26,91.17 L574.56,91.78 L574.88,92.41 L575.18,93.04 L575.48,93.69 L575.76,94.34 L576.00,95.00 L576.23,95.66 L576.45,96.34 L576.67,97.03 L576.86,97.72 L577.03,98.42 L577.17,99.11 L577.26,99.81 L577.30,100.50 L577.29,101.20 L577.23,101.91 L577.12,102.63 L576.99,103.34 L576.82,104.05 L576.63,104.73 L576.42,105.38 L576.20,106.00 L575.96,106.58 L575.69,107.12 L575.39,107.64 L575.07,108.14 L574.74,108.62 L574.39,109.08 L574.05,109.54 L573.70,110.00 L573.33,110.47 L572.91,110.95 L572.48,111.43 L572.04,111.90 L571.63,112.33 L571.25,112.72 L570.93,113.05 L570.70,113.30 L569.70,113.30 L569.47,113.05 L569.15,112.72 L568.77,112.33 L568.36,111.90 L567.92,111.43 L567.49,110.95 L567.07,110.47 L566.70,110.00 L566.35,109.54 L566.01,109.08 L565.66,108.62 L565.33,108.14 L565.01,107.64 L564.71,107.12 L564.44,106.58 L564.20,106.00 L563.98,105.38 L563.77,104.73 L563.58,104.05 L563.41,103.34 L563.28,102.63 L563.17,101.91 L563.11,101.20 L563.10,100.50 L563.14,99.81 L563.23,99.11 L563.37,98.42 L563.54,97.72 L563.73,97.03 L563.95,96.34 L564.17,95.66 L564.40,95.00 L564.64,94.34 L564.92,93.69 L565.22,93.04 L565.53,92.41 L565.84,91.78 L566.14,91.17 L566.43,90.57 L566.70,90.00 L566.95,89.45 L567.19,88.93 L567.42,88.43 L567.64,87.94 L567.85,87.46 L568.05,86.98 L568.23,86.49 L568.40,86.00 L568.55,85.50 L568.69,85.01 L568.81,84.52 L568.92,84.03 L569.02,83.54 L569.11,83.04 L569.21,82.52 L569.30,82.00 L569.39,81.43 L569.49,80.80 L569.57,80.15 L569.66,79.50 L569.73,78.88 L569.80,78.32 L569.86,77.85 L569.90,77.50Z" fill="#eef9a2" stroke="#d9e47a" stroke-width="0.45"/>
<line x1="570.20" y1="78.00" x2="570.20" y2="112.80" stroke="#b8bcb0" stroke-width="0.3" />
<line x1="570.20" y1="94.26" x2="570.20" y2="105.65" stroke="#606060" stroke-width="0.7" />
<line x1="564.67" y1="99.80" x2="568.00" y2="99.80" stroke="#ee3028" stroke-width="2.3" stroke-linecap="round"/>
<line x1="572.40" y1="99.80" x2="575.73" y2="99.80" stroke="#ee3028" stroke-width="2.3" stroke-linecap="round"/>
<rect x="569.10" y="98.70" width="2.2" height="2.2" fill="#fff"/>
<path d="M593.80,70.80 L593.81,71.36 L593.83,72.12 L593.85,73.03 L593.87,74.02 L593.89,75.07 L593.92,76.12 L593.96,77.11 L594.00,78.00 L594.04,78.81 L594.08,79.61 L594.12,80.38 L594.17,81.14 L594.23,81.88 L594.30,82.60 L594.39,83.31 L594.50,84.00 L594.63,84.67 L594.78,85.30 L594.95,85.90 L595.12,86.50 L595.32,87.10 L595.53,87.70 L595.76,88.33 L596.00,89.00 L596.27,89.69 L596.56,90.37 L596.87,91.07 L597.19,91.78 L597.53,92.52 L597.86,93.30 L598.19,94.12 L598.50,95.00 L598.83,95.96 L599.20,97.00 L599.58,98.09 L599.96,99.22 L600.30,100.35 L600.58,101.46 L600.79,102.52 L600.90,103.50 L600.90,104.41 L600.80,105.28 L600.62,106.11 L600.39,106.91 L600.13,107.69 L599.84,108.46 L599.56,109.23 L599.30,110.00 L599.04,110.78 L598.77,111.56 L598.48,112.33 L598.17,113.09 L597.87,113.85 L597.57,114.58 L597.28,115.30 L597.00,116.00 L596.73,116.67 L596.46,117.33 L596.19,117.96 L595.93,118.58 L595.68,119.19 L595.44,119.79 L595.21,120.40 L595.00,121.00 L594.80,121.63 L594.62,122.31 L594.44,122.99 L594.27,123.66 L594.13,124.29 L594.00,124.86 L593.89,125.34 L593.80,125.70 L593.20,125.70 L593.11,125.34 L593.00,124.86 L592.87,124.29 L592.73,123.66 L592.56,122.99 L592.38,122.31 L592.20,121.63 L592.00,121.00 L591.79,120.40 L591.56,119.79 L591.32,119.19 L591.07,118.58 L590.81,117.96 L590.54,117.33 L590.27,116.67 L590.00,116.00 L589.72,115.30 L589.43,114.58 L589.13,113.85 L588.83,113.09 L588.52,112.33 L588.23,111.56 L587.96,110.78 L587.70,110.00 L587.44,109.23 L587.16,108.46 L586.87,107.69 L586.61,106.91 L586.38,106.11 L586.20,105.28 L586.10,104.41 L586.10,103.50 L586.21,102.52 L586.42,101.46 L586.70,100.35 L587.04,99.22 L587.42,98.09 L587.80,97.00 L588.17,95.96 L588.50,95.00 L588.81,94.12 L589.14,93.30 L589.47,92.52 L589.81,91.78 L590.13,91.07 L590.44,90.37 L590.73,89.69 L591.00,89.00 L591.24,88.33 L591.47,87.70 L591.68,87.10 L591.88,86.50 L592.05,85.90 L592.22,85.30 L592.37,84.67 L592.50,84.00 L592.61,83.31 L592.70,82.60 L592.77,81.88 L592.83,81.14 L592.88,80.38 L592.92,79.61 L592.96,78.81 L593.00,78.00 L593.04,77.11 L593.08,76.12 L593.11,75.07 L593.13,74.02 L593.15,73.03 L593.17,72.12 L593.19,71.36 L593.20,70.80Z" fill="#88d9f7" stroke="#5fc2ea" stroke-width="0.45"/>
<line x1="593.50" y1="71.30" x2="593.50" y2="125.20" stroke="#b8bcb0" stroke-width="0.3" />
<line x1="593.50" y1="97.19" x2="593.50" y2="110.86" stroke="#606060" stroke-width="0.7" />
<line x1="587.69" y1="104.20" x2="591.30" y2="104.20" stroke="#ee3028" stroke-width="2.3" stroke-linecap="round"/>
<line x1="595.70" y1="104.20" x2="599.31" y2="104.20" stroke="#ee3028" stroke-width="2.3" stroke-linecap="round"/>
<rect x="592.40" y="103.10" width="2.2" height="2.2" fill="#fff"/>
<path d="M617.50,128.50 L617.54,128.93 L617.58,129.52 L617.64,130.23 L617.70,131.00 L617.78,131.81 L617.87,132.60 L617.97,133.35 L618.10,134.00 L618.25,134.56 L618.41,135.08 L618.59,135.57 L618.78,136.03 L618.99,136.49 L619.21,136.96 L619.45,137.46 L619.70,138.00 L619.98,138.58 L620.29,139.18 L620.62,139.80 L620.97,140.44 L621.31,141.08 L621.64,141.73 L621.94,142.37 L622.20,143.00 L622.44,143.62 L622.67,144.25 L622.89,144.88 L623.09,145.50 L623.26,146.12 L623.39,146.75 L623.47,147.38 L623.50,148.00 L623.47,148.62 L623.39,149.25 L623.27,149.88 L623.11,150.50 L622.91,151.12 L622.69,151.75 L622.45,152.38 L622.20,153.00 L621.91,153.63 L621.57,154.27 L621.20,154.92 L620.81,155.56 L620.41,156.20 L620.04,156.82 L619.69,157.42 L619.40,158.00 L619.15,158.56 L618.93,159.11 L618.73,159.64 L618.56,160.16 L618.40,160.65 L618.25,161.13 L618.12,161.58 L618.00,162.00 L617.89,162.40 L617.80,162.79 L617.72,163.16 L617.66,163.50 L617.61,163.81 L617.57,164.09 L617.53,164.32 L617.50,164.50 L616.90,164.50 L616.87,164.32 L616.83,164.09 L616.79,163.81 L616.74,163.50 L616.68,163.16 L616.60,162.79 L616.51,162.40 L616.40,162.00 L616.28,161.58 L616.15,161.13 L616.00,160.65 L615.84,160.16 L615.67,159.64 L615.47,159.11 L615.25,158.56 L615.00,158.00 L614.71,157.42 L614.36,156.82 L613.99,156.20 L613.59,155.56 L613.20,154.92 L612.83,154.27 L612.49,153.63 L612.20,153.00 L611.95,152.38 L611.71,151.75 L611.49,151.12 L611.29,150.50 L611.13,149.88 L611.01,149.25 L610.93,148.62 L610.90,148.00 L610.93,147.38 L611.01,146.75 L611.14,146.12 L611.31,145.50 L611.51,144.88 L611.73,144.25 L611.96,143.62 L612.20,143.00 L612.46,142.37 L612.76,141.73 L613.09,141.08 L613.43,140.44 L613.78,139.80 L614.11,139.18 L614.42,138.58 L614.70,138.00 L614.95,137.46 L615.19,136.96 L615.41,136.49 L615.62,136.03 L615.81,135.57 L615.99,135.08 L616.15,134.56 L616.30,134.00 L616.43,133.35 L616.53,132.60 L616.62,131.81 L616.70,131.00 L616.76,130.23 L616.82,129.52 L616.86,128.93 L616.90,128.50Z" fill="#eef9a2" stroke="#d9e47a" stroke-width="0.45"/>
<line x1="617.20" y1="129.00" x2="617.20" y2="164.00" stroke="#b8bcb0" stroke-width="0.3" />
<line x1="617.20" y1="143.08" x2="617.20" y2="152.92" stroke="#606060" stroke-width="0.7" />
<line x1="612.40" y1="148.00" x2="615.00" y2="148.00" stroke="#ee3028" stroke-width="2.3" stroke-linecap="round"/>
<line x1="619.40" y1="148.00" x2="622.00" y2="148.00" stroke="#ee3028" stroke-width="2.3" stroke-linecap="round"/>
<rect x="616.10" y="146.90" width="2.2" height="2.2" fill="#fff"/>
<path d="M640.70,114.00 L640.72,114.62 L640.74,115.44 L640.76,116.41 L640.79,117.50 L640.83,118.65 L640.88,119.81 L640.93,120.95 L641.00,122.00 L641.08,123.01 L641.16,124.05 L641.26,125.09 L641.36,126.12 L641.48,127.15 L641.60,128.14 L641.75,129.10 L641.90,130.00 L642.07,130.85 L642.25,131.64 L642.45,132.40 L642.66,133.12 L642.88,133.84 L643.11,134.55 L643.35,135.26 L643.60,136.00 L643.86,136.75 L644.15,137.50 L644.44,138.25 L644.75,139.00 L645.06,139.75 L645.35,140.50 L645.64,141.25 L645.90,142.00 L646.16,142.75 L646.45,143.50 L646.73,144.25 L647.00,145.00 L647.24,145.75 L647.43,146.50 L647.55,147.25 L647.60,148.00 L647.56,148.75 L647.44,149.50 L647.27,150.25 L647.04,151.00 L646.78,151.75 L646.50,152.50 L646.20,153.25 L645.90,154.00 L645.58,154.76 L645.21,155.54 L644.81,156.32 L644.40,157.09 L643.99,157.86 L643.59,158.61 L643.22,159.32 L642.90,160.00 L642.61,160.67 L642.34,161.34 L642.09,162.00 L641.86,162.62 L641.66,163.21 L641.48,163.73 L641.32,164.16 L641.20,164.50 L639.60,164.50 L639.48,164.16 L639.32,163.73 L639.14,163.21 L638.94,162.62 L638.71,162.00 L638.46,161.34 L638.19,160.67 L637.90,160.00 L637.58,159.32 L637.21,158.61 L636.81,157.86 L636.40,157.09 L635.99,156.32 L635.59,155.54 L635.22,154.76 L634.90,154.00 L634.60,153.25 L634.30,152.50 L634.02,151.75 L633.76,151.00 L633.53,150.25 L633.36,149.50 L633.24,148.75 L633.20,148.00 L633.25,147.25 L633.37,146.50 L633.56,145.75 L633.80,145.00 L634.07,144.25 L634.35,143.50 L634.64,142.75 L634.90,142.00 L635.16,141.25 L635.45,140.50 L635.74,139.75 L636.05,139.00 L636.36,138.25 L636.65,137.50 L636.94,136.75 L637.20,136.00 L637.45,135.26 L637.69,134.55 L637.92,133.84 L638.14,133.12 L638.35,132.40 L638.55,131.64 L638.73,130.85 L638.90,130.00 L639.05,129.10 L639.20,128.14 L639.32,127.15 L639.44,126.12 L639.54,125.09 L639.64,124.05 L639.72,123.01 L639.80,122.00 L639.87,120.95 L639.92,119.81 L639.97,118.65 L640.01,117.50 L640.04,116.41 L640.06,115.44 L640.08,114.62 L640.10,114.00Z" fill="#88d9f7" stroke="#5fc2ea" stroke-width="0.45"/>
<line x1="640.40" y1="114.50" x2="640.40" y2="164.00" stroke="#b8bcb0" stroke-width="0.3" />
<line x1="640.40" y1="141.70" x2="640.40" y2="153.46" stroke="#606060" stroke-width="0.7" />
<line x1="634.78" y1="148.00" x2="638.20" y2="148.00" stroke="#ee3028" stroke-width="2.3" stroke-linecap="round"/>
<line x1="642.60" y1="148.00" x2="646.02" y2="148.00" stroke="#ee3028" stroke-width="2.3" stroke-linecap="round"/>
<rect x="639.30" y="146.90" width="2.2" height="2.2" fill="#fff"/>
<path d="M570.10,67.50 L570.10,64.70 L593.70,64.70 L593.70,67.50" fill="none" stroke="#333" stroke-width="1"/>
<text x="576.8" y="59.3" font-size="11.2" fill="#111" stroke="#111" stroke-width="0.15" style="white-space:pre">p = 6.4  x 10<tspan font-size="7" dy="-5" stroke-width="0.1">-8</tspan></text>
<path d="M617.10,110.60 L617.10,107.80 L640.70,107.80 L640.70,110.60" fill="none" stroke="#333" stroke-width="1"/>
<text x="628.90" y="104.50" font-size="10.4" font-weight="normal" font-style="normal" text-anchor="middle" fill="#000" fill="#222" textLength="17.4" lengthAdjust="spacingAndGlyphs">N.S.</text>
<text x="0.60" y="207.00" font-size="18.3" font-weight="bold" font-style="normal" text-anchor="start" fill="#000" >B</text>
<text x="189.30" y="207.00" font-size="18.3" font-weight="bold" font-style="normal" text-anchor="start" fill="#000" >C</text>
<text x="387.30" y="207.20" font-size="17.5" font-weight="bold" font-style="normal" text-anchor="start" fill="#000" >D</text>
<line x1="50.80" y1="220.80" x2="50.80" y2="324.00" stroke="#222" stroke-width="1.3" />
<line x1="50.20" y1="323.40" x2="181.80" y2="323.40" stroke="#222" stroke-width="1.3" />
<line x1="50.80" y1="239.00" x2="53.30" y2="239.00" stroke="#222" stroke-width="1" />
<text x="45.30" y="242.70" font-size="10.5" font-weight="bold" font-style="normal" text-anchor="end" fill="#000" fill="#222">27</text>
<line x1="50.80" y1="274.90" x2="53.30" y2="274.90" stroke="#222" stroke-width="1" />
<text x="45.30" y="278.60" font-size="10.5" font-weight="bold" font-style="normal" text-anchor="end" fill="#000" fill="#222">23</text>
<line x1="50.80" y1="311.40" x2="53.30" y2="311.40" stroke="#222" stroke-width="1" />
<text x="45.30" y="315.10" font-size="10.5" font-weight="bold" font-style="normal" text-anchor="end" fill="#000" fill="#222">18</text>
<line x1="61.50" y1="323.40" x2="61.50" y2="320.90" stroke="#222" stroke-width="1" />
<text x="61.50" y="336.60" font-size="10.5" font-weight="bold" font-style="normal" text-anchor="middle" fill="#000" fill="#222">0</text>
<line x1="118.20" y1="323.40" x2="118.20" y2="320.90" stroke="#222" stroke-width="1" />
<text x="118.20" y="336.60" font-size="10.5" font-weight="bold" font-style="normal" text-anchor="middle" fill="#000" fill="#222">0.5</text>
<line x1="171.80" y1="323.40" x2="171.80" y2="320.90" stroke="#222" stroke-width="1" />
<text x="171.80" y="336.60" font-size="10.5" font-weight="bold" font-style="normal" text-anchor="middle" fill="#000" fill="#222">1.0</text>
<g transform="translate(25.60,272.30) rotate(-90)"><text x="0" y="0" font-size="11.2" font-weight="bold" text-anchor="middle" fill="#111">Nodal efficiency at 8 y</text></g>
<text x="108.10" y="350.50" font-size="11.25" font-weight="bold" font-style="normal" text-anchor="middle" fill="#000" fill="#111">Nodal rates of change at 3.6 y</text>
<text x="57" y="225.6" font-size="10.2" font-weight="bold" fill="#111" style="white-space:pre">r = 0.31;   p = 1.5 x 10<tspan font-size="7.5" dy="-4.5">-6</tspan></text>
<line x1="242.20" y1="219.80" x2="242.20" y2="322.80" stroke="#222" stroke-width="1.3" />
<line x1="241.60" y1="322.20" x2="373.50" y2="322.20" stroke="#222" stroke-width="1.3" />
<line x1="242.20" y1="238.20" x2="244.70" y2="238.20" stroke="#222" stroke-width="1" />
<text x="238.60" y="241.90" font-size="10.5" font-weight="bold" font-style="normal" text-anchor="end" fill="#000" fill="#222">0.5</text>
<line x1="242.20" y1="273.00" x2="244.70" y2="273.00" stroke="#222" stroke-width="1" />
<text x="238.60" y="276.70" font-size="10.5" font-weight="bold" font-style="normal" text-anchor="end" fill="#000" fill="#222">0.4</text>
<line x1="242.20" y1="310.60" x2="244.70" y2="310.60" stroke="#222" stroke-width="1" />
<text x="238.60" y="314.30" font-size="10.5" font-weight="bold" font-style="normal" text-anchor="end" fill="#000" fill="#222">0.29</text>
<line x1="253.40" y1="322.20" x2="253.40" y2="319.70" stroke="#222" stroke-width="1" />
<text x="253.40" y="335.40" font-size="10.5" font-weight="bold" font-style="normal" text-anchor="middle" fill="#000" fill="#222">0</text>
<line x1="309.60" y1="322.20" x2="309.60" y2="319.70" stroke="#222" stroke-width="1" />
<text x="309.60" y="335.40" font-size="10.5" font-weight="bold" font-style="normal" text-anchor="middle" fill="#000" fill="#222">0.5</text>
<line x1="363.20" y1="322.20" x2="363.20" y2="319.70" stroke="#222" stroke-width="1" />
<text x="363.20" y="335.40" font-size="10.5" font-weight="bold" font-style="normal" text-anchor="middle" fill="#000" fill="#222">1.0</text>
<g transform="translate(211.20,271.50) rotate(-90)"><text x="0" y="0" font-size="11.2" font-weight="bold" text-anchor="middle" fill="#111">Nodal FA at 3.6 y</text></g>
<text x="300.00" y="349.50" font-size="11.25" font-weight="bold" font-style="normal" text-anchor="middle" fill="#000" fill="#111">Nodal rates of change at 3.6 y</text>
<text x="249" y="224.5" font-size="10.2" font-weight="bold" fill="#111" style="white-space:pre">r = 0.58;   p = 2.7 x 10<tspan font-size="7.5" dy="-4.5">-22</tspan></text>
<line x1="241.80" y1="384.00" x2="241.80" y2="486.40" stroke="#222" stroke-width="1.3" />
<line x1="241.20" y1="485.80" x2="373.50" y2="485.80" stroke="#222" stroke-width="1.3" />
<line x1="241.80" y1="403.00" x2="244.30" y2="403.00" stroke="#222" stroke-width="1" />
<text x="238.60" y="406.70" font-size="10.5" font-weight="bold" font-style="normal" text-anchor="end" fill="#000" fill="#222">7.5</text>
<line x1="241.80" y1="422.30" x2="244.30" y2="422.30" stroke="#222" stroke-width="1" />
<line x1="241.80" y1="441.50" x2="244.30" y2="441.50" stroke="#222" stroke-width="1" />
<text x="238.60" y="445.20" font-size="10.5" font-weight="bold" font-style="normal" text-anchor="end" fill="#000" fill="#222">6.5</text>
<line x1="241.80" y1="460.50" x2="244.30" y2="460.50" stroke="#222" stroke-width="1" />
<line x1="241.80" y1="479.70" x2="244.30" y2="479.70" stroke="#222" stroke-width="1" />
<text x="238.60" y="483.40" font-size="10.5" font-weight="bold" font-style="normal" text-anchor="end" fill="#000" fill="#222">5.5</text>
<line x1="253.20" y1="485.80" x2="253.20" y2="483.30" stroke="#222" stroke-width="1" />
<text x="253.20" y="499.00" font-size="10.5" font-weight="bold" font-style="normal" text-anchor="middle" fill="#000" fill="#222">0</text>
<line x1="308.40" y1="485.80" x2="308.40" y2="483.30" stroke="#222" stroke-width="1" />
<text x="308.40" y="499.00" font-size="10.5" font-weight="bold" font-style="normal" text-anchor="middle" fill="#000" fill="#222">0.5</text>
<line x1="362.30" y1="485.80" x2="362.30" y2="483.30" stroke="#222" stroke-width="1" />
<text x="362.30" y="499.00" font-size="10.5" font-weight="bold" font-style="normal" text-anchor="middle" fill="#000" fill="#222">1.0</text>
<g transform="translate(215.80,435.40) rotate(-90)"><text x="0" y="0" font-size="11.2" font-weight="bold" text-anchor="middle" fill="#111">Nodal RD at 3.6 y</text></g>
<text x="300.00" y="512.20" font-size="11.25" font-weight="bold" font-style="normal" text-anchor="middle" fill="#000" fill="#111">Nodal rates of change at 3.6 y</text>
<text x="238.4" y="377.2" font-size="11.6" font-weight="bold" fill="#111">x 10<tspan font-size="8.6" dy="-5.5">-4</tspan></text>
<text x="247.6" y="388" font-size="10.2" font-weight="bold" fill="#111" style="white-space:pre">r = -0.57;  p = 7.2 x 10<tspan font-size="7.5" dy="-4.5">-22</tspan></text>
<g fill="#000"><circle cx="66.4" cy="253.5" r="1.4"/><circle cx="82.1" cy="250.0" r="1.4"/><circle cx="88.4" cy="250.5" r="1.4"/><circle cx="92.2" cy="245.5" r="1.4"/><circle cx="96.6" cy="245.5" r="1.4"/><circle cx="94.2" cy="249.8" r="1.4"/><circle cx="97.6" cy="250.8" r="1.4"/><circle cx="85.5" cy="254.2" r="1.4"/><circle cx="88.4" cy="255.9" r="1.4"/><circle cx="92.2" cy="256.1" r="1.4"/><circle cx="99.5" cy="253.7" r="1.4"/><circle cx="102.4" cy="256.1" r="1.4"/><circle cx="83.0" cy="258.8" r="1.4"/><circle cx="77.7" cy="262.4" r="1.4"/><circle cx="84.0" cy="261.9" r="1.4"/><circle cx="87.9" cy="263.4" r="1.4"/><circle cx="92.7" cy="259.0" r="1.4"/><circle cx="95.6" cy="262.9" r="1.4"/><circle cx="99.5" cy="261.9" r="1.4"/><circle cx="103.4" cy="260.0" r="1.4"/><circle cx="89.8" cy="266.8" r="1.4"/><circle cx="95.6" cy="266.8" r="1.4"/><circle cx="99.5" cy="266.3" r="1.4"/><circle cx="70.0" cy="267.2" r="1.4"/><circle cx="75.3" cy="266.8" r="1.4"/><circle cx="79.2" cy="266.8" r="1.4"/><circle cx="83.0" cy="269.7" r="1.4"/><circle cx="72.4" cy="271.6" r="1.4"/><circle cx="77.2" cy="270.6" r="1.4"/><circle cx="67.6" cy="272.1" r="1.4"/><circle cx="62.3" cy="274.0" r="1.4"/><circle cx="69.5" cy="276.4" r="1.4"/><circle cx="74.3" cy="274.0" r="1.4"/><circle cx="79.2" cy="274.0" r="1.4"/><circle cx="84.0" cy="273.5" r="1.4"/><circle cx="90.8" cy="270.6" r="1.4"/><circle cx="94.7" cy="273.5" r="1.4"/><circle cx="102.4" cy="275.9" r="1.4"/><circle cx="100.5" cy="270.6" r="1.4"/><circle cx="76.3" cy="277.4" r="1.4"/><circle cx="81.1" cy="278.4" r="1.4"/><circle cx="126.6" cy="239.3" r="1.4"/><circle cx="129.8" cy="242.7" r="1.4"/><circle cx="123.4" cy="245.1" r="1.4"/><circle cx="108.9" cy="249.4" r="1.4"/><circle cx="112.6" cy="251.3" r="1.4"/><circle cx="112.6" cy="254.0" r="1.4"/><circle cx="117.9" cy="252.3" r="1.4"/><circle cx="107.7" cy="255.0" r="1.4"/><circle cx="110.6" cy="256.9" r="1.4"/><circle cx="104.8" cy="256.9" r="1.4"/><circle cx="101.0" cy="255.9" r="1.4"/><circle cx="101.9" cy="259.8" r="1.4"/><circle cx="104.8" cy="262.7" r="1.4"/><circle cx="116.4" cy="259.3" r="1.4"/><circle cx="117.9" cy="261.3" r="1.4"/><circle cx="100.8" cy="266.1" r="1.4"/><circle cx="108.2" cy="266.1" r="1.4"/><circle cx="120.3" cy="268.5" r="1.4"/><circle cx="135.8" cy="269.0" r="1.4"/><circle cx="102.4" cy="272.4" r="1.4"/><circle cx="62.5" cy="274.1" r="1.4"/><circle cx="67.6" cy="272.1" r="1.4"/><circle cx="69.5" cy="276.6" r="1.4"/><circle cx="72.4" cy="271.9" r="1.4"/><circle cx="76.3" cy="273.4" r="1.4"/><circle cx="80.1" cy="271.5" r="1.4"/><circle cx="83.0" cy="273.9" r="1.4"/><circle cx="86.9" cy="275.8" r="1.4"/><circle cx="91.8" cy="271.0" r="1.4"/><circle cx="94.7" cy="275.3" r="1.4"/><circle cx="102.4" cy="272.9" r="1.4"/><circle cx="102.4" cy="276.6" r="1.4"/><circle cx="68.5" cy="285.0" r="1.4"/><circle cx="71.9" cy="281.6" r="1.4"/><circle cx="75.3" cy="282.6" r="1.4"/><circle cx="79.2" cy="280.2" r="1.4"/><circle cx="82.1" cy="281.6" r="1.4"/><circle cx="85.0" cy="279.2" r="1.4"/><circle cx="88.4" cy="282.1" r="1.4"/><circle cx="91.3" cy="283.5" r="1.4"/><circle cx="94.7" cy="283.5" r="1.4"/><circle cx="97.6" cy="282.1" r="1.4"/><circle cx="100.5" cy="280.8" r="1.4"/><circle cx="61.3" cy="286.9" r="1.4"/><circle cx="64.2" cy="289.3" r="1.4"/><circle cx="70.5" cy="286.9" r="1.4"/><circle cx="74.3" cy="286.0" r="1.4"/><circle cx="77.7" cy="287.4" r="1.4"/><circle cx="81.1" cy="285.5" r="1.4"/><circle cx="83.0" cy="286.9" r="1.4"/><circle cx="96.6" cy="286.9" r="1.4"/><circle cx="61.8" cy="292.2" r="1.4"/><circle cx="72.4" cy="290.8" r="1.4"/><circle cx="75.3" cy="288.9" r="1.4"/><circle cx="78.7" cy="290.3" r="1.4"/><circle cx="84.0" cy="289.3" r="1.4"/><circle cx="86.9" cy="292.7" r="1.4"/><circle cx="90.3" cy="290.3" r="1.4"/><circle cx="91.8" cy="293.7" r="1.4"/><circle cx="98.0" cy="292.0" r="1.4"/><circle cx="101.4" cy="292.2" r="1.4"/><circle cx="64.2" cy="295.3" r="1.4"/><circle cx="75.8" cy="298.0" r="1.4"/><circle cx="79.2" cy="298.5" r="1.4"/><circle cx="86.9" cy="297.6" r="1.4"/><circle cx="88.8" cy="298.8" r="1.4"/><circle cx="99.0" cy="297.6" r="1.4"/><circle cx="67.6" cy="299.5" r="1.4"/><circle cx="96.1" cy="300.8" r="1.4"/><circle cx="74.3" cy="302.4" r="1.4"/><circle cx="84.5" cy="303.4" r="1.4"/><circle cx="70.5" cy="306.8" r="1.4"/><circle cx="79.7" cy="307.2" r="1.4"/><circle cx="74.3" cy="311.4" r="1.4"/><circle cx="102.3" cy="276.1" r="1.4"/><circle cx="110.3" cy="275.6" r="1.4"/><circle cx="112.3" cy="277.9" r="1.4"/><circle cx="109.9" cy="279.6" r="1.4"/><circle cx="100.6" cy="281.1" r="1.4"/><circle cx="118.9" cy="281.9" r="1.4"/><circle cx="124.5" cy="282.5" r="1.4"/><circle cx="139.5" cy="275.6" r="1.4"/><circle cx="146.7" cy="279.7" r="1.4"/><circle cx="132.4" cy="286.0" r="1.4"/><circle cx="171.8" cy="288.1" r="1.4"/><circle cx="111.9" cy="288.1" r="1.4"/><circle cx="101.4" cy="292.2" r="1.4"/><circle cx="112.3" cy="296.6" r="1.4"/><circle cx="107.6" cy="310.9" r="1.4"/><circle cx="102.6" cy="272.6" r="1.4"/><circle cx="136.0" cy="270.2" r="1.4"/><circle cx="159.0" cy="265.1" r="1.4"/><circle cx="136.0" cy="269.3" r="1.4"/><circle cx="92.6" cy="245.3" r="1.4"/><circle cx="96.4" cy="245.8" r="1.4"/><circle cx="81.9" cy="249.7" r="1.4"/><circle cx="88.7" cy="250.2" r="1.4"/><circle cx="94.5" cy="249.7" r="1.4"/><circle cx="97.4" cy="250.2" r="1.4"/><circle cx="109.0" cy="249.2" r="1.4"/><circle cx="112.9" cy="252.1" r="1.4"/><circle cx="98.9" cy="253.1" r="1.4"/><circle cx="85.8" cy="254.5" r="1.4"/><circle cx="92.6" cy="255.0" r="1.4"/><circle cx="107.1" cy="254.0" r="1.4"/><circle cx="111.9" cy="254.5" r="1.4"/><circle cx="89.7" cy="256.4" r="1.4"/><circle cx="100.8" cy="256.9" r="1.4"/><circle cx="105.1" cy="256.9" r="1.4"/><circle cx="109.0" cy="256.9" r="1.4"/><circle cx="82.9" cy="258.4" r="1.4"/><circle cx="92.6" cy="258.9" r="1.4"/><circle cx="102.7" cy="260.3" r="1.4"/><circle cx="86.8" cy="260.8" r="1.4"/><circle cx="81.9" cy="262.2" r="1.4"/><circle cx="89.7" cy="262.7" r="1.4"/><circle cx="95.5" cy="262.7" r="1.4"/><circle cx="99.3" cy="262.7" r="1.4"/><circle cx="105.1" cy="262.7" r="1.4"/><circle cx="85.8" cy="264.7" r="1.4"/><circle cx="91.6" cy="265.1" r="1.4"/><circle cx="97.4" cy="265.1" r="1.4"/><circle cx="108.0" cy="266.1" r="1.4"/><circle cx="100.3" cy="266.6" r="1.4"/><circle cx="81.0" cy="269.0" r="1.4"/><circle cx="89.7" cy="268.0" r="1.4"/><circle cx="94.5" cy="268.0" r="1.4"/><circle cx="90.6" cy="271.0" r="1.4"/><circle cx="96.4" cy="270.5" r="1.4"/><circle cx="81.9" cy="271.9" r="1.4"/><circle cx="102.2" cy="272.9" r="1.4"/><circle cx="85.8" cy="276.3" r="1.4"/><circle cx="94.5" cy="275.8" r="1.4"/><circle cx="102.2" cy="276.3" r="1.4"/><circle cx="110.0" cy="275.3" r="1.4"/><circle cx="110.9" cy="277.7" r="1.4"/><circle cx="110.0" cy="279.7" r="1.4"/><circle cx="81.9" cy="278.7" r="1.4"/><circle cx="89.7" cy="280.6" r="1.4"/><circle cx="95.5" cy="282.1" r="1.4"/><circle cx="100.3" cy="281.1" r="1.4"/><circle cx="82.9" cy="283.5" r="1.4"/><circle cx="94.5" cy="284.5" r="1.4"/><circle cx="97.4" cy="286.4" r="1.4"/><circle cx="85.8" cy="287.4" r="1.4"/><circle cx="111.9" cy="287.9" r="1.4"/><circle cx="89.7" cy="288.4" r="1.4"/><circle cx="85.4" cy="276.2" r="1.4"/><circle cx="106.6" cy="271.1" r="1.4"/><circle cx="87.9" cy="277.7" r="1.4"/><circle cx="73.3" cy="273.6" r="1.4"/><circle cx="93.3" cy="288.8" r="1.4"/><circle cx="94.4" cy="279.2" r="1.4"/><circle cx="88.8" cy="249.2" r="1.4"/><circle cx="84.8" cy="291.5" r="1.4"/><circle cx="88.4" cy="280.6" r="1.4"/><circle cx="87.5" cy="281.8" r="1.4"/><circle cx="85.6" cy="261.0" r="1.4"/><circle cx="102.8" cy="284.2" r="1.4"/><circle cx="79.2" cy="258.4" r="1.4"/><circle cx="99.5" cy="267.6" r="1.4"/><circle cx="103.1" cy="266.9" r="1.4"/><circle cx="106.0" cy="271.4" r="1.4"/><circle cx="109.1" cy="267.5" r="1.4"/><circle cx="68.3" cy="280.0" r="1.4"/><circle cx="100.0" cy="260.6" r="1.4"/><circle cx="100.9" cy="255.6" r="1.4"/><circle cx="90.2" cy="270.2" r="1.4"/><circle cx="73.6" cy="285.5" r="1.4"/><circle cx="70.9" cy="280.8" r="1.4"/><circle cx="70.2" cy="268.7" r="1.4"/><circle cx="74.6" cy="260.6" r="1.4"/><circle cx="78.7" cy="293.8" r="1.4"/><circle cx="74.5" cy="267.3" r="1.4"/><circle cx="103.4" cy="280.7" r="1.4"/><circle cx="74.6" cy="259.9" r="1.4"/><circle cx="99.8" cy="263.8" r="1.4"/><circle cx="69.1" cy="277.5" r="1.4"/><circle cx="75.9" cy="278.5" r="1.4"/><circle cx="81.7" cy="270.5" r="1.4"/><circle cx="108.2" cy="272.1" r="1.4"/><circle cx="90.9" cy="292.8" r="1.4"/><circle cx="104.7" cy="278.6" r="1.4"/><circle cx="84.0" cy="251.6" r="1.4"/><circle cx="75.7" cy="284.0" r="1.4"/><circle cx="76.6" cy="290.5" r="1.4"/><circle cx="91.8" cy="261.8" r="1.4"/><circle cx="72.9" cy="284.9" r="1.4"/><circle cx="90.2" cy="292.0" r="1.4"/><circle cx="92.6" cy="261.1" r="1.4"/><circle cx="106.3" cy="257.0" r="1.4"/><circle cx="72.9" cy="265.9" r="1.4"/></g>
<line x1="61.90" y1="281.70" x2="171.80" y2="251.90" stroke="#ee3028" stroke-width="2" />
<g fill="#000"><circle cx="283.8" cy="254.4" r="1.4"/><circle cx="289.6" cy="254.4" r="1.4"/><circle cx="293.0" cy="256.8" r="1.4"/><circle cx="284.8" cy="256.3" r="1.4"/><circle cx="265.4" cy="264.0" r="1.4"/><circle cx="274.6" cy="263.1" r="1.4"/><circle cx="260.6" cy="269.3" r="1.4"/><circle cx="263.5" cy="268.4" r="1.4"/><circle cx="259.1" cy="272.2" r="1.4"/><circle cx="293.9" cy="265.0" r="1.4"/><circle cx="285.7" cy="262.6" r="1.4"/><circle cx="253.8" cy="280.5" r="1.4"/><circle cx="257.7" cy="280.0" r="1.4"/><circle cx="253.3" cy="288.7" r="1.4"/><circle cx="262.5" cy="296.9" r="1.4"/><circle cx="293.5" cy="296.9" r="1.4"/><circle cx="293.5" cy="285.3" r="1.4"/><circle cx="279.9" cy="267.9" r="1.4"/><circle cx="273.6" cy="270.8" r="1.4"/><circle cx="268.3" cy="275.6" r="1.4"/><circle cx="264.9" cy="276.1" r="1.4"/><circle cx="350.6" cy="238.3" r="1.4"/><circle cx="363.3" cy="238.3" r="1.4"/><circle cx="331.3" cy="244.6" r="1.4"/><circle cx="338.6" cy="253.6" r="1.4"/><circle cx="292.9" cy="256.2" r="1.4"/><circle cx="302.3" cy="258.4" r="1.4"/><circle cx="304.5" cy="258.7" r="1.4"/><circle cx="309.6" cy="257.2" r="1.4"/><circle cx="315.4" cy="261.0" r="1.4"/><circle cx="299.4" cy="261.3" r="1.4"/><circle cx="293.6" cy="264.5" r="1.4"/><circle cx="297.3" cy="264.2" r="1.4"/><circle cx="301.6" cy="266.3" r="1.4"/><circle cx="304.5" cy="267.4" r="1.4"/><circle cx="295.8" cy="268.8" r="1.4"/><circle cx="300.2" cy="269.2" r="1.4"/><circle cx="316.8" cy="268.5" r="1.4"/><circle cx="321.2" cy="266.3" r="1.4"/><circle cx="327.7" cy="268.5" r="1.4"/><circle cx="308.1" cy="272.9" r="1.4"/><circle cx="311.8" cy="274.3" r="1.4"/><circle cx="303.1" cy="274.3" r="1.4"/><circle cx="296.5" cy="275.0" r="1.4"/><circle cx="309.6" cy="275.8" r="1.4"/><circle cx="311.0" cy="278.4" r="1.4"/><circle cx="324.1" cy="278.4" r="1.4"/><circle cx="300.2" cy="280.1" r="1.4"/><circle cx="303.8" cy="278.0" r="1.4"/><circle cx="292.9" cy="280.9" r="1.4"/><circle cx="292.9" cy="285.2" r="1.4"/><circle cx="302.8" cy="285.6" r="1.4"/><circle cx="292.9" cy="296.8" r="1.4"/><circle cx="303.8" cy="296.4" r="1.4"/><circle cx="253.1" cy="288.3" r="1.4"/><circle cx="255.3" cy="290.8" r="1.4"/><circle cx="262.6" cy="296.7" r="1.4"/><circle cx="263.7" cy="304.3" r="1.4"/><circle cx="266.2" cy="307.3" r="1.4"/><circle cx="276.1" cy="310.5" r="1.4"/><circle cx="279.8" cy="306.9" r="1.4"/><circle cx="271.0" cy="305.4" r="1.4"/><circle cx="271.4" cy="303.2" r="1.4"/><circle cx="266.2" cy="300.7" r="1.4"/><circle cx="268.8" cy="301.1" r="1.4"/><circle cx="269.9" cy="298.5" r="1.4"/><circle cx="267.3" cy="296.3" r="1.4"/><circle cx="265.5" cy="293.8" r="1.4"/><circle cx="275.7" cy="296.0" r="1.4"/><circle cx="275.0" cy="298.5" r="1.4"/><circle cx="277.2" cy="297.4" r="1.4"/><circle cx="279.4" cy="298.5" r="1.4"/><circle cx="276.8" cy="300.3" r="1.4"/><circle cx="280.8" cy="294.9" r="1.4"/><circle cx="283.0" cy="294.5" r="1.4"/><circle cx="286.0" cy="293.8" r="1.4"/><circle cx="288.5" cy="291.6" r="1.4"/><circle cx="290.7" cy="300.3" r="1.4"/><circle cx="293.3" cy="297.0" r="1.4"/><circle cx="293.3" cy="285.7" r="1.4"/><circle cx="287.8" cy="286.5" r="1.4"/><circle cx="283.0" cy="290.8" r="1.4"/><circle cx="279.4" cy="289.4" r="1.4"/><circle cx="275.7" cy="287.9" r="1.4"/><circle cx="271.4" cy="290.1" r="1.4"/><circle cx="268.4" cy="291.6" r="1.4"/><circle cx="263.3" cy="292.3" r="1.4"/><circle cx="261.1" cy="286.5" r="1.4"/><circle cx="269.9" cy="294.5" r="1.4"/><circle cx="272.8" cy="293.0" r="1.4"/><circle cx="265.5" cy="287.2" r="1.4"/><circle cx="299.6" cy="305.1" r="1.4"/><circle cx="291.0" cy="300.9" r="1.4"/><circle cx="277.9" cy="287.6" r="1.4"/><circle cx="286.0" cy="266.0" r="1.4"/><circle cx="269.5" cy="294.0" r="1.4"/><circle cx="287.0" cy="285.3" r="1.4"/><circle cx="281.4" cy="287.8" r="1.4"/><circle cx="264.8" cy="298.1" r="1.4"/><circle cx="260.5" cy="294.4" r="1.4"/><circle cx="261.1" cy="288.9" r="1.4"/><circle cx="272.2" cy="277.0" r="1.4"/><circle cx="284.1" cy="266.9" r="1.4"/><circle cx="287.3" cy="262.2" r="1.4"/><circle cx="265.2" cy="294.3" r="1.4"/><circle cx="274.8" cy="277.6" r="1.4"/><circle cx="283.0" cy="280.0" r="1.4"/><circle cx="273.0" cy="275.3" r="1.4"/><circle cx="287.0" cy="288.3" r="1.4"/><circle cx="273.3" cy="281.5" r="1.4"/><circle cx="292.0" cy="281.0" r="1.4"/><circle cx="276.1" cy="281.8" r="1.4"/><circle cx="267.3" cy="277.9" r="1.4"/><circle cx="274.3" cy="292.4" r="1.4"/><circle cx="262.3" cy="283.1" r="1.4"/><circle cx="265.5" cy="289.2" r="1.4"/><circle cx="272.5" cy="286.8" r="1.4"/><circle cx="278.0" cy="300.3" r="1.4"/><circle cx="278.2" cy="300.1" r="1.4"/><circle cx="265.0" cy="298.8" r="1.4"/><circle cx="289.4" cy="298.3" r="1.4"/><circle cx="290.4" cy="274.4" r="1.4"/><circle cx="259.7" cy="286.0" r="1.4"/><circle cx="271.5" cy="293.1" r="1.4"/><circle cx="292.9" cy="286.9" r="1.4"/><circle cx="267.6" cy="282.1" r="1.4"/><circle cx="278.1" cy="286.3" r="1.4"/><circle cx="269.0" cy="299.8" r="1.4"/><circle cx="295.6" cy="266.8" r="1.4"/><circle cx="270.2" cy="296.7" r="1.4"/><circle cx="269.7" cy="299.6" r="1.4"/><circle cx="279.6" cy="289.2" r="1.4"/><circle cx="287.6" cy="269.0" r="1.4"/><circle cx="286.7" cy="289.2" r="1.4"/><circle cx="263.5" cy="297.2" r="1.4"/><circle cx="275.7" cy="270.1" r="1.4"/><circle cx="276.3" cy="301.1" r="1.4"/><circle cx="281.5" cy="286.2" r="1.4"/><circle cx="289.9" cy="277.5" r="1.4"/><circle cx="282.7" cy="297.8" r="1.4"/><circle cx="291.1" cy="284.4" r="1.4"/><circle cx="272.6" cy="275.5" r="1.4"/><circle cx="288.9" cy="283.7" r="1.4"/><circle cx="258.7" cy="289.8" r="1.4"/><circle cx="280.5" cy="293.1" r="1.4"/><circle cx="272.8" cy="273.1" r="1.4"/><circle cx="280.7" cy="286.1" r="1.4"/><circle cx="263.2" cy="282.4" r="1.4"/><circle cx="287.4" cy="276.6" r="1.4"/><circle cx="268.3" cy="277.1" r="1.4"/><circle cx="271.6" cy="288.8" r="1.4"/><circle cx="271.1" cy="289.2" r="1.4"/><circle cx="289.9" cy="287.7" r="1.4"/><circle cx="297.3" cy="275.4" r="1.4"/><circle cx="276.6" cy="267.5" r="1.4"/><circle cx="286.0" cy="274.3" r="1.4"/><circle cx="273.1" cy="271.7" r="1.4"/><circle cx="266.5" cy="278.2" r="1.4"/><circle cx="267.3" cy="298.6" r="1.4"/><circle cx="279.0" cy="289.3" r="1.4"/><circle cx="264.8" cy="279.5" r="1.4"/><circle cx="283.5" cy="295.4" r="1.4"/><circle cx="268.5" cy="279.3" r="1.4"/><circle cx="267.6" cy="282.6" r="1.4"/><circle cx="290.0" cy="276.6" r="1.4"/><circle cx="286.3" cy="287.9" r="1.4"/><circle cx="286.6" cy="274.7" r="1.4"/><circle cx="288.8" cy="273.5" r="1.4"/><circle cx="279.0" cy="275.2" r="1.4"/><circle cx="267.5" cy="282.9" r="1.4"/><circle cx="291.8" cy="272.0" r="1.4"/><circle cx="297.3" cy="285.1" r="1.4"/><circle cx="274.3" cy="296.7" r="1.4"/><circle cx="295.7" cy="273.5" r="1.4"/><circle cx="263.3" cy="286.9" r="1.4"/><circle cx="293.4" cy="285.6" r="1.4"/><circle cx="290.9" cy="277.3" r="1.4"/><circle cx="283.9" cy="271.1" r="1.4"/><circle cx="275.1" cy="275.9" r="1.4"/><circle cx="274.2" cy="276.8" r="1.4"/><circle cx="291.9" cy="267.1" r="1.4"/><circle cx="298.8" cy="282.0" r="1.4"/><circle cx="260.2" cy="295.1" r="1.4"/><circle cx="273.1" cy="290.9" r="1.4"/><circle cx="266.9" cy="297.0" r="1.4"/><circle cx="264.9" cy="290.1" r="1.4"/><circle cx="294.2" cy="285.5" r="1.4"/><circle cx="262.3" cy="288.8" r="1.4"/><circle cx="280.5" cy="278.8" r="1.4"/><circle cx="280.2" cy="287.4" r="1.4"/><circle cx="291.6" cy="281.2" r="1.4"/><circle cx="284.7" cy="279.6" r="1.4"/><circle cx="284.6" cy="276.3" r="1.4"/><circle cx="296.5" cy="270.8" r="1.4"/><circle cx="285.5" cy="277.8" r="1.4"/><circle cx="294.0" cy="273.9" r="1.4"/><circle cx="296.5" cy="276.9" r="1.4"/><circle cx="287.5" cy="267.6" r="1.4"/><circle cx="293.7" cy="286.0" r="1.4"/><circle cx="292.6" cy="285.8" r="1.4"/><circle cx="287.1" cy="286.8" r="1.4"/><circle cx="271.3" cy="298.5" r="1.4"/><circle cx="273.2" cy="292.6" r="1.4"/><circle cx="267.1" cy="294.1" r="1.4"/><circle cx="286.0" cy="272.3" r="1.4"/><circle cx="280.2" cy="283.6" r="1.4"/><circle cx="276.7" cy="288.5" r="1.4"/><circle cx="295.0" cy="276.4" r="1.4"/><circle cx="275.5" cy="285.8" r="1.4"/><circle cx="272.7" cy="286.3" r="1.4"/><circle cx="281.6" cy="280.7" r="1.4"/><circle cx="286.2" cy="284.0" r="1.4"/><circle cx="274.8" cy="280.7" r="1.4"/><circle cx="276.5" cy="297.6" r="1.4"/><circle cx="294.2" cy="271.8" r="1.4"/><circle cx="281.7" cy="277.9" r="1.4"/><circle cx="273.8" cy="278.1" r="1.4"/><circle cx="281.3" cy="293.1" r="1.4"/><circle cx="285.3" cy="272.9" r="1.4"/><circle cx="287.0" cy="267.8" r="1.4"/><circle cx="276.8" cy="294.2" r="1.4"/><circle cx="295.2" cy="281.7" r="1.4"/><circle cx="292.5" cy="283.0" r="1.4"/><circle cx="280.9" cy="285.9" r="1.4"/><circle cx="279.0" cy="290.7" r="1.4"/><circle cx="285.2" cy="278.0" r="1.4"/><circle cx="284.8" cy="277.6" r="1.4"/><circle cx="268.2" cy="289.5" r="1.4"/><circle cx="277.6" cy="275.1" r="1.4"/><circle cx="293.2" cy="272.1" r="1.4"/><circle cx="278.9" cy="273.1" r="1.4"/><circle cx="274.4" cy="291.0" r="1.4"/><circle cx="292.6" cy="267.1" r="1.4"/><circle cx="269.3" cy="282.7" r="1.4"/><circle cx="275.8" cy="291.5" r="1.4"/><circle cx="287.9" cy="281.8" r="1.4"/><circle cx="286.0" cy="271.4" r="1.4"/><circle cx="292.5" cy="273.9" r="1.4"/><circle cx="274.3" cy="295.4" r="1.4"/><circle cx="275.7" cy="287.8" r="1.4"/><circle cx="268.3" cy="293.3" r="1.4"/><circle cx="294.2" cy="284.7" r="1.4"/><circle cx="275.0" cy="294.8" r="1.4"/><circle cx="280.5" cy="272.4" r="1.4"/><circle cx="292.2" cy="283.3" r="1.4"/><circle cx="297.1" cy="272.5" r="1.4"/><circle cx="276.6" cy="295.7" r="1.4"/><circle cx="289.4" cy="279.1" r="1.4"/></g>
<line x1="252.90" y1="294.20" x2="362.90" y2="246.40" stroke="#ee3028" stroke-width="2" />
<g fill="#000"><circle cx="269.1" cy="402.0" r="1.4"/><circle cx="276.0" cy="408.1" r="1.4"/><circle cx="278.9" cy="411.0" r="1.4"/><circle cx="275.1" cy="410.5" r="1.4"/><circle cx="265.4" cy="412.9" r="1.4"/><circle cx="270.2" cy="411.9" r="1.4"/><circle cx="278.9" cy="414.3" r="1.4"/><circle cx="297.3" cy="409.5" r="1.4"/><circle cx="292.0" cy="417.2" r="1.4"/><circle cx="289.6" cy="418.7" r="1.4"/><circle cx="260.6" cy="416.8" r="1.4"/><circle cx="252.4" cy="420.6" r="1.4"/><circle cx="275.1" cy="418.2" r="1.4"/><circle cx="287.7" cy="423.5" r="1.4"/><circle cx="282.8" cy="423.0" r="1.4"/><circle cx="253.3" cy="428.4" r="1.4"/><circle cx="254.8" cy="434.2" r="1.4"/><circle cx="262.5" cy="435.6" r="1.4"/><circle cx="257.2" cy="441.4" r="1.4"/><circle cx="266.4" cy="437.6" r="1.4"/><circle cx="264.4" cy="420.1" r="1.4"/><circle cx="269.3" cy="419.2" r="1.4"/><circle cx="278.9" cy="421.1" r="1.4"/><circle cx="262.5" cy="424.0" r="1.4"/><circle cx="267.3" cy="424.0" r="1.4"/><circle cx="273.1" cy="425.0" r="1.4"/><circle cx="277.0" cy="426.9" r="1.4"/><circle cx="258.6" cy="425.9" r="1.4"/><circle cx="264.4" cy="428.8" r="1.4"/><circle cx="269.3" cy="427.9" r="1.4"/><circle cx="272.2" cy="431.8" r="1.4"/><circle cx="279.9" cy="430.8" r="1.4"/><circle cx="285.7" cy="429.8" r="1.4"/><circle cx="287.7" cy="432.7" r="1.4"/><circle cx="268.3" cy="434.7" r="1.4"/><circle cx="275.1" cy="436.6" r="1.4"/><circle cx="281.8" cy="437.6" r="1.4"/><circle cx="288.6" cy="436.6" r="1.4"/><circle cx="293.5" cy="436.6" r="1.4"/><circle cx="269.3" cy="440.5" r="1.4"/><circle cx="277.0" cy="441.4" r="1.4"/><circle cx="284.8" cy="440.5" r="1.4"/><circle cx="291.5" cy="441.4" r="1.4"/><circle cx="267.3" cy="441.4" r="1.4"/><circle cx="256.9" cy="441.6" r="1.4"/><circle cx="258.9" cy="445.0" r="1.4"/><circle cx="261.8" cy="444.5" r="1.4"/><circle cx="263.7" cy="447.4" r="1.4"/><circle cx="264.7" cy="449.8" r="1.4"/><circle cx="262.7" cy="435.8" r="1.4"/><circle cx="267.6" cy="439.7" r="1.4"/><circle cx="268.5" cy="442.6" r="1.4"/><circle cx="272.4" cy="443.5" r="1.4"/><circle cx="274.3" cy="446.9" r="1.4"/><circle cx="273.9" cy="452.7" r="1.4"/><circle cx="278.2" cy="449.3" r="1.4"/><circle cx="278.2" cy="451.8" r="1.4"/><circle cx="275.8" cy="440.6" r="1.4"/><circle cx="280.1" cy="441.6" r="1.4"/><circle cx="284.0" cy="442.6" r="1.4"/><circle cx="282.1" cy="445.5" r="1.4"/><circle cx="285.9" cy="447.4" r="1.4"/><circle cx="287.9" cy="450.3" r="1.4"/><circle cx="284.0" cy="453.2" r="1.4"/><circle cx="285.9" cy="454.7" r="1.4"/><circle cx="284.0" cy="457.1" r="1.4"/><circle cx="288.4" cy="458.5" r="1.4"/><circle cx="283.0" cy="461.4" r="1.4"/><circle cx="290.8" cy="453.2" r="1.4"/><circle cx="292.7" cy="452.2" r="1.4"/><circle cx="289.8" cy="446.9" r="1.4"/><circle cx="291.8" cy="443.5" r="1.4"/><circle cx="294.7" cy="439.7" r="1.4"/><circle cx="297.6" cy="447.4" r="1.4"/><circle cx="297.6" cy="451.8" r="1.4"/><circle cx="301.4" cy="451.8" r="1.4"/><circle cx="303.4" cy="452.2" r="1.4"/><circle cx="299.5" cy="448.4" r="1.4"/><circle cx="301.4" cy="433.9" r="1.4"/><circle cx="302.9" cy="440.2" r="1.4"/><circle cx="302.9" cy="442.6" r="1.4"/><circle cx="300.9" cy="460.0" r="1.4"/><circle cx="266.6" cy="437.7" r="1.4"/><circle cx="270.5" cy="436.8" r="1.4"/><circle cx="287.9" cy="433.9" r="1.4"/><circle cx="291.8" cy="435.8" r="1.4"/><circle cx="277.2" cy="434.8" r="1.4"/><circle cx="284.0" cy="431.9" r="1.4"/><circle cx="280.1" cy="431.9" r="1.4"/><circle cx="298.2" cy="409.4" r="1.4"/><circle cx="302.8" cy="420.8" r="1.4"/><circle cx="292.0" cy="417.1" r="1.4"/><circle cx="301.5" cy="434.1" r="1.4"/><circle cx="302.8" cy="440.2" r="1.4"/><circle cx="308.1" cy="443.5" r="1.4"/><circle cx="310.6" cy="442.6" r="1.4"/><circle cx="317.6" cy="443.5" r="1.4"/><circle cx="322.9" cy="441.5" r="1.4"/><circle cx="320.4" cy="448.4" r="1.4"/><circle cx="327.0" cy="449.5" r="1.4"/><circle cx="308.9" cy="454.5" r="1.4"/><circle cx="314.7" cy="453.3" r="1.4"/><circle cx="300.7" cy="459.9" r="1.4"/><circle cx="337.7" cy="458.3" r="1.4"/><circle cx="330.3" cy="466.0" r="1.4"/><circle cx="349.5" cy="471.4" r="1.4"/><circle cx="362.0" cy="473.9" r="1.4"/><circle cx="296.6" cy="451.7" r="1.4"/><circle cx="303.2" cy="452.2" r="1.4"/><circle cx="299.9" cy="447.6" r="1.4"/><circle cx="293.3" cy="439.3" r="1.4"/><circle cx="291.6" cy="447.6" r="1.4"/><circle cx="252.9" cy="420.8" r="1.4"/><circle cx="268.2" cy="444.2" r="1.4"/><circle cx="288.2" cy="451.4" r="1.4"/><circle cx="264.7" cy="424.1" r="1.4"/><circle cx="262.9" cy="423.9" r="1.4"/><circle cx="281.0" cy="423.4" r="1.4"/><circle cx="269.8" cy="433.0" r="1.4"/><circle cx="295.4" cy="440.8" r="1.4"/><circle cx="256.7" cy="426.1" r="1.4"/><circle cx="294.1" cy="449.5" r="1.4"/><circle cx="294.8" cy="446.8" r="1.4"/><circle cx="300.6" cy="448.9" r="1.4"/><circle cx="278.9" cy="447.2" r="1.4"/><circle cx="282.5" cy="432.9" r="1.4"/><circle cx="273.1" cy="432.9" r="1.4"/><circle cx="270.7" cy="419.2" r="1.4"/><circle cx="294.5" cy="449.1" r="1.4"/><circle cx="282.0" cy="446.9" r="1.4"/><circle cx="276.8" cy="421.8" r="1.4"/><circle cx="265.5" cy="437.0" r="1.4"/><circle cx="267.9" cy="434.2" r="1.4"/><circle cx="284.5" cy="431.4" r="1.4"/><circle cx="262.1" cy="435.6" r="1.4"/><circle cx="267.1" cy="424.4" r="1.4"/><circle cx="265.1" cy="430.1" r="1.4"/><circle cx="289.8" cy="455.1" r="1.4"/><circle cx="258.0" cy="420.2" r="1.4"/><circle cx="293.9" cy="450.9" r="1.4"/><circle cx="286.0" cy="421.0" r="1.4"/><circle cx="297.7" cy="449.3" r="1.4"/><circle cx="273.6" cy="445.5" r="1.4"/><circle cx="284.4" cy="445.8" r="1.4"/><circle cx="266.0" cy="441.2" r="1.4"/><circle cx="283.3" cy="440.0" r="1.4"/><circle cx="272.9" cy="446.0" r="1.4"/><circle cx="272.0" cy="427.0" r="1.4"/><circle cx="261.3" cy="423.9" r="1.4"/><circle cx="282.1" cy="437.9" r="1.4"/><circle cx="272.1" cy="418.1" r="1.4"/><circle cx="261.7" cy="427.3" r="1.4"/><circle cx="268.6" cy="440.3" r="1.4"/><circle cx="259.6" cy="434.7" r="1.4"/><circle cx="273.2" cy="450.7" r="1.4"/><circle cx="280.3" cy="434.9" r="1.4"/><circle cx="287.5" cy="427.0" r="1.4"/><circle cx="298.8" cy="446.5" r="1.4"/><circle cx="268.1" cy="444.1" r="1.4"/><circle cx="283.6" cy="429.6" r="1.4"/><circle cx="267.5" cy="426.6" r="1.4"/><circle cx="265.6" cy="429.4" r="1.4"/><circle cx="257.8" cy="431.5" r="1.4"/><circle cx="278.6" cy="438.4" r="1.4"/><circle cx="271.6" cy="426.7" r="1.4"/><circle cx="276.4" cy="420.0" r="1.4"/><circle cx="270.3" cy="431.1" r="1.4"/><circle cx="257.6" cy="419.6" r="1.4"/><circle cx="273.0" cy="433.4" r="1.4"/><circle cx="281.6" cy="419.5" r="1.4"/><circle cx="278.5" cy="430.4" r="1.4"/><circle cx="272.2" cy="449.3" r="1.4"/><circle cx="287.3" cy="455.2" r="1.4"/><circle cx="280.4" cy="454.5" r="1.4"/><circle cx="276.7" cy="439.2" r="1.4"/><circle cx="285.2" cy="450.9" r="1.4"/><circle cx="262.4" cy="437.5" r="1.4"/><circle cx="294.2" cy="437.5" r="1.4"/><circle cx="270.0" cy="417.8" r="1.4"/><circle cx="289.7" cy="452.1" r="1.4"/><circle cx="275.9" cy="441.4" r="1.4"/><circle cx="295.2" cy="445.5" r="1.4"/><circle cx="269.7" cy="447.5" r="1.4"/><circle cx="261.1" cy="427.6" r="1.4"/><circle cx="277.2" cy="414.2" r="1.4"/><circle cx="257.4" cy="425.4" r="1.4"/><circle cx="296.1" cy="432.3" r="1.4"/><circle cx="278.8" cy="425.5" r="1.4"/><circle cx="281.2" cy="422.5" r="1.4"/><circle cx="273.7" cy="434.9" r="1.4"/><circle cx="265.0" cy="439.2" r="1.4"/><circle cx="264.4" cy="418.5" r="1.4"/><circle cx="283.7" cy="427.5" r="1.4"/><circle cx="282.1" cy="432.4" r="1.4"/><circle cx="280.0" cy="422.4" r="1.4"/><circle cx="268.5" cy="433.1" r="1.4"/><circle cx="269.5" cy="433.5" r="1.4"/><circle cx="286.1" cy="432.3" r="1.4"/><circle cx="279.4" cy="443.0" r="1.4"/><circle cx="274.2" cy="420.0" r="1.4"/><circle cx="288.6" cy="438.0" r="1.4"/><circle cx="284.4" cy="439.1" r="1.4"/><circle cx="287.8" cy="430.5" r="1.4"/><circle cx="281.4" cy="440.5" r="1.4"/><circle cx="272.7" cy="420.9" r="1.4"/><circle cx="278.1" cy="442.4" r="1.4"/><circle cx="282.1" cy="433.2" r="1.4"/><circle cx="268.1" cy="429.0" r="1.4"/><circle cx="265.9" cy="421.4" r="1.4"/><circle cx="281.5" cy="445.9" r="1.4"/><circle cx="273.2" cy="430.6" r="1.4"/><circle cx="271.8" cy="428.4" r="1.4"/><circle cx="288.4" cy="436.7" r="1.4"/><circle cx="270.8" cy="421.6" r="1.4"/><circle cx="288.6" cy="442.0" r="1.4"/><circle cx="289.4" cy="450.3" r="1.4"/><circle cx="287.5" cy="429.8" r="1.4"/><circle cx="268.6" cy="420.6" r="1.4"/><circle cx="277.8" cy="424.7" r="1.4"/><circle cx="269.3" cy="421.5" r="1.4"/><circle cx="280.0" cy="423.8" r="1.4"/><circle cx="280.5" cy="445.6" r="1.4"/><circle cx="270.6" cy="432.3" r="1.4"/><circle cx="289.7" cy="448.4" r="1.4"/><circle cx="285.4" cy="432.0" r="1.4"/><circle cx="285.6" cy="446.2" r="1.4"/><circle cx="283.7" cy="426.1" r="1.4"/><circle cx="272.0" cy="431.9" r="1.4"/><circle cx="288.2" cy="436.9" r="1.4"/><circle cx="280.7" cy="446.1" r="1.4"/><circle cx="273.3" cy="437.0" r="1.4"/><circle cx="281.1" cy="436.4" r="1.4"/><circle cx="270.0" cy="437.1" r="1.4"/><circle cx="278.0" cy="433.3" r="1.4"/><circle cx="274.8" cy="444.7" r="1.4"/><circle cx="267.9" cy="433.3" r="1.4"/><circle cx="276.4" cy="420.8" r="1.4"/><circle cx="285.8" cy="434.3" r="1.4"/><circle cx="285.4" cy="436.3" r="1.4"/><circle cx="280.9" cy="435.9" r="1.4"/><circle cx="288.4" cy="440.9" r="1.4"/><circle cx="282.6" cy="427.9" r="1.4"/><circle cx="272.9" cy="429.9" r="1.4"/></g>
<line x1="252.30" y1="423.70" x2="362.30" y2="470.90" stroke="#ee3028" stroke-width="2" />
<rect x="52.2" y="414" width="135" height="72" fill="#f2f2f2"/>
<line x1="52.20" y1="374.30" x2="52.20" y2="487.00" stroke="#111" stroke-width="2" />
<line x1="51.20" y1="486.40" x2="187.00" y2="486.40" stroke="#111" stroke-width="2" />
<text x="47.40" y="378.30" font-size="11" font-weight="bold" font-style="normal" text-anchor="end" fill="#000" fill="#111">0.4</text>
<text x="47.40" y="418.00" font-size="11" font-weight="bold" font-style="normal" text-anchor="end" fill="#000" fill="#111">0.2</text>
<text x="47.40" y="467.70" font-size="11" font-weight="bold" font-style="normal" text-anchor="end" fill="#000" fill="#111">0</text>
<line x1="52.50" y1="486.00" x2="52.50" y2="483.20" stroke="#111" stroke-width="1" />
<text x="52.50" y="498.00" font-size="11.5" font-weight="bold" font-style="normal" text-anchor="middle" fill="#000" fill="#111">0</text>
<line x1="68.70" y1="486.00" x2="68.70" y2="483.20" stroke="#111" stroke-width="1" />
<line x1="84.90" y1="486.00" x2="84.90" y2="483.20" stroke="#111" stroke-width="1" />
<text x="84.90" y="498.00" font-size="11.5" font-weight="bold" font-style="normal" text-anchor="middle" fill="#000" fill="#111">2</text>
<line x1="101.10" y1="486.00" x2="101.10" y2="483.20" stroke="#111" stroke-width="1" />
<line x1="117.30" y1="486.00" x2="117.30" y2="483.20" stroke="#111" stroke-width="1" />
<text x="117.30" y="498.00" font-size="11.5" font-weight="bold" font-style="normal" text-anchor="middle" fill="#000" fill="#111">4</text>
<line x1="133.50" y1="486.00" x2="133.50" y2="483.20" stroke="#111" stroke-width="1" />
<line x1="149.70" y1="486.00" x2="149.70" y2="483.20" stroke="#111" stroke-width="1" />
<text x="149.70" y="498.00" font-size="11.5" font-weight="bold" font-style="normal" text-anchor="middle" fill="#000" fill="#111">6</text>
<line x1="165.90" y1="486.00" x2="165.90" y2="483.20" stroke="#111" stroke-width="1" />
<line x1="182.10" y1="486.00" x2="182.10" y2="483.20" stroke="#111" stroke-width="1" />
<text x="182.10" y="498.00" font-size="11.5" font-weight="bold" font-style="normal" text-anchor="middle" fill="#000" fill="#111">8</text>
<text x="118.50" y="511.00" font-size="11.5" font-weight="bold" font-style="normal" text-anchor="middle" fill="#000" fill="#111">Age</text>
<g transform="translate(27,431.6) rotate(-90)"><text x="0" y="0" font-size="11.1" font-weight="bold" text-anchor="middle" fill="#111">Correlation coefficient</text></g>
<path d="M52.5,465 C62,448 74,428 84,414" fill="none" stroke="#999" stroke-width="1.5"/>
<path d="M84,414 C95,398 102,389 110.5,388.8 C120,389 134,402 147,414" fill="none" stroke="#e8e064" stroke-width="1.6"/>
<path d="M147,414 C158,422 172,423 182.6,426" fill="none" stroke="#999" stroke-width="1.5"/>
<path d="M52.5,455 C58,450 63,447 69.4,447.2 C85,448 98,468 112,480 C118,485 124,486 132,485.6 C150,484 168,481 182.6,479.3" fill="none" stroke="#999" stroke-width="1.6"/>
<line x1="53.30" y1="413.90" x2="188.00" y2="413.90" stroke="#111" stroke-width="2" stroke-dasharray="6,5.8"/>
<circle cx="110.5" cy="388.8" r="2.2" fill="#ee3028"/>
<path d="M110.9,356.6 L117.9,364.6 L113.9,364.6 L113.9,372.4 L107.9,372.4 L107.9,364.6 L103.9,364.6 Z" fill="#d9482b"/>
<text x="111.40" y="385.00" font-size="11" font-weight="bold" font-style="normal" text-anchor="start" fill="#000" fill="#111">3.6 yrs</text>
<text x="53.80" y="426.60" font-size="10.6" font-weight="bold" font-style="normal" text-anchor="start" fill="#000" fill="#111">N.S.</text>
<text x="115.40" y="433.20" font-size="11.2" font-weight="bold" font-style="normal" text-anchor="start" fill="#000" fill="#111">Association</text>
<text x="130.00" y="476.60" font-size="11.2" font-weight="bold" font-style="normal" text-anchor="start" fill="#000" fill="#111">Primary</text>
<rect x="488.60" y="214.90" width="91.10" height="29.60" fill="#fff" stroke="#7674b0" stroke-width="1.5"/>
<text x="534.30" y="233.70" font-size="10.5" text-anchor="middle" fill="#111" style="white-space:pre">Nodal FA at 3.6 y</text>
<rect x="407.30" y="298.40" width="98.90" height="29.70" fill="#fff" stroke="#7674b0" stroke-width="1.5"/>
<text x="456.60" y="310.90" font-size="10.5" text-anchor="middle" fill="#111" style="white-space:pre">Nodal rates of</text>
<text x="456.60" y="323.40" font-size="10.5" text-anchor="middle" fill="#111" style="white-space:pre">change at 3.6 y</text>
<rect x="571.10" y="298.20" width="98.80" height="29.90" fill="#fff" stroke="#7674b0" stroke-width="1.5"/>
<text x="620.80" y="311.30" font-size="10.5" text-anchor="middle" fill="#111" style="white-space:pre">Nodal efficiency at</text>
<text x="620.80" y="324.00" font-size="10.5" text-anchor="middle" fill="#111" style="white-space:pre">8 y</text>
<line x1="455.50" y1="298.00" x2="501.46" y2="250.05" stroke="#000" stroke-width="2" />
<path d="M506.30,245.00 L503.77,252.27 L499.15,247.84 Z" fill="#000"/>
<line x1="563.80" y1="246.40" x2="606.24" y2="292.17" stroke="#000" stroke-width="2" />
<path d="M611.00,297.30 L603.89,294.34 L608.59,289.99 Z" fill="#000"/>
<line x1="515.00" y1="313.00" x2="554.30" y2="313.00" stroke="#000" stroke-width="2" />
<path d="M561.30,313.00 L554.30,316.20 L554.30,309.80 Z" fill="#000"/>
<text x="389.20" y="255.00" font-size="10.5" text-anchor="start" fill="#111" style="white-space:pre"><tspan font-weight="bold" font-style="italic">a</tspan>: <tspan font-style="italic">β</tspan> = 0.14, p = 0.0001</text>
<text x="441.60" y="267.10" font-size="10.5" text-anchor="middle" fill="#111" style="white-space:pre">CI: [0.12, 0.17]</text>
<text x="571.30" y="253.30" font-size="10.5" text-anchor="start" fill="#111" style="white-space:pre"><tspan font-weight="bold" font-style="italic">b</tspan>: <tspan font-style="italic">β</tspan> = 29.8, p = 0.0002</text>
<text x="625.20" y="266.40" font-size="10.5" text-anchor="middle" fill="#111" style="white-space:pre">CI: [23.1, 35.9]</text>
<text x="487.50" y="281.40" font-size="10.5" text-anchor="start" fill="#111" style="white-space:pre"><tspan font-weight="bold" font-style="italic">c'</tspan>: <tspan font-style="italic">β</tspan> = -0.43, <tspan font-style="italic">p</tspan> = 0.91</text>
<text x="537.20" y="292.80" font-size="10.5" text-anchor="middle" fill="#111" style="white-space:pre">CI: [-2.83, 1.65]</text>
<text x="442.70" y="341.80" font-size="10.5" text-anchor="start" fill="#111" style="white-space:pre"><tspan font-weight="bold" font-style="italic">Indirect Effect(ab)</tspan>: <tspan font-style="italic">β</tspan> = 4.31, p = 0.0001</text>
<text x="536.80" y="355.00" font-size="10.5" text-anchor="middle" fill="#111" style="white-space:pre">CI: [3.32, 5.50]</text>
<rect x="487.40" y="370.30" width="93.80" height="28.60" fill="#fff" stroke="#7674b0" stroke-width="1.5"/>
<text x="534.30" y="388.40" font-size="10.5" text-anchor="middle" fill="#111" style="white-space:pre">Nodal RD at 3.6 y</text>
<rect x="407.50" y="454.60" width="99.10" height="30.60" fill="#fff" stroke="#7674b0" stroke-width="1.5"/>
<text x="457.00" y="467.20" font-size="10.5" text-anchor="middle" fill="#111" style="white-space:pre">Nodal rates of</text>
<text x="457.00" y="479.60" font-size="10.5" text-anchor="middle" fill="#111" style="white-space:pre">change at 3.6 y</text>
<rect x="572.20" y="454.60" width="98.60" height="30.60" fill="#fff" stroke="#7674b0" stroke-width="1.5"/>
<text x="621.50" y="467.40" font-size="10.5" text-anchor="middle" fill="#111" style="white-space:pre">Nodal efficiency at</text>
<text x="621.50" y="480.00" font-size="10.5" text-anchor="middle" fill="#111" style="white-space:pre">8 y</text>
<line x1="456.50" y1="453.60" x2="501.53" y2="407.13" stroke="#000" stroke-width="2" />
<path d="M506.40,402.10 L503.83,409.35 L499.23,404.90 Z" fill="#000"/>
<line x1="566.80" y1="403.40" x2="607.77" y2="446.43" stroke="#000" stroke-width="2" />
<path d="M612.60,451.50 L605.46,448.64 L610.09,444.22 Z" fill="#000"/>
<line x1="515.00" y1="468.80" x2="554.40" y2="468.80" stroke="#000" stroke-width="2" />
<path d="M561.40,468.80 L554.40,472.00 L554.40,465.60 Z" fill="#000"/>
<text x="386.00" y="411.00" font-size="10.5" text-anchor="start" fill="#111" style="white-space:pre"><tspan font-weight="bold" font-style="italic">a</tspan>: <tspan font-style="italic">β</tspan> = -0.13, p = 0.0001</text>
<text x="439.90" y="423.80" font-size="10.5" text-anchor="middle" fill="#111" style="white-space:pre">CI: [-0.14, -0.11]</text>
<text x="574.30" y="408.50" font-size="10.5" text-anchor="start" fill="#111" style="white-space:pre"><tspan font-weight="bold" font-style="italic">b</tspan>: <tspan font-style="italic">β</tspan> = -33.3, p = 0.0002</text>
<text x="628.60" y="421.40" font-size="10.5" text-anchor="middle" fill="#111" style="white-space:pre">CI: [-40.1, -25.8]</text>
<text x="487.50" y="437.20" font-size="10.5" text-anchor="start" fill="#111" style="white-space:pre"><tspan font-weight="bold" font-style="italic">c'</tspan>: <tspan font-style="italic">β</tspan> = -0.04, <tspan font-style="italic">p</tspan> = 0.85</text>
<text x="537.60" y="448.30" font-size="10.5" text-anchor="middle" fill="#111" style="white-space:pre">CI:[-0.28, 0.17]</text>
<text x="443.00" y="500.20" font-size="10.5" text-anchor="start" fill="#111" style="white-space:pre"><tspan font-weight="bold" font-style="italic">Indirect Effect(ab)</tspan>: <tspan font-style="italic">β</tspan> = 0.43, p = 0.0002</text>
<text x="538.10" y="512.70" font-size="10.5" text-anchor="middle" fill="#111" style="white-space:pre">CI: [0.33,0.55]</text>
</svg>
</body></html>
